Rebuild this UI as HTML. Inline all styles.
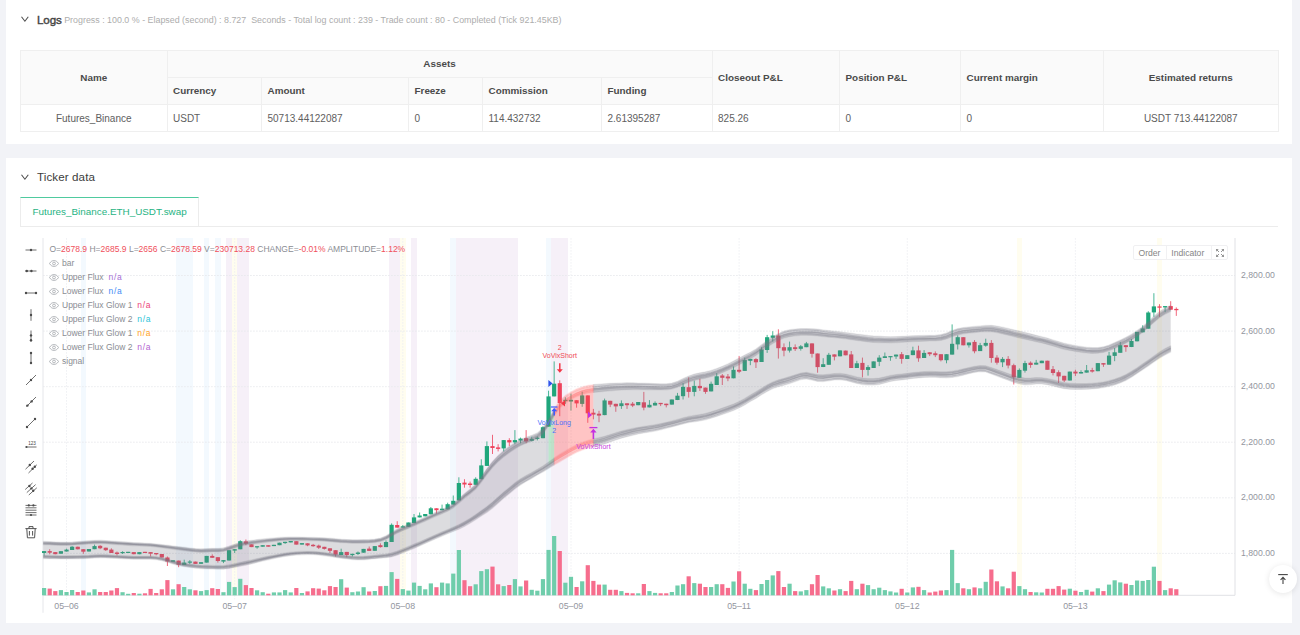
<!DOCTYPE html>
<html><head><meta charset="utf-8">
<style>
*{box-sizing:border-box;margin:0;padding:0}
html,body{width:1300px;height:635px;overflow:hidden}
body{background:#f2f3f7;font-family:"Liberation Sans",sans-serif;position:relative;color:#444}
.card{position:absolute;left:6px;width:1286px;background:#fff}
#c1{top:0;height:143.5px}
#c2{top:157.5px;height:465.5px}
.abs{position:absolute;white-space:nowrap}
.hd{font-size:11.6px;color:#444;font-weight:normal;-webkit-text-stroke:0.4px #444;letter-spacing:-0.1px}
.sub{font-size:8.9px;color:#adadad}
table{position:absolute;left:20px;top:49.5px;width:1258px;border-collapse:collapse;table-layout:fixed;font-size:10px;color:#606060}
td,th{border:1px solid #efefef;height:27.2px;padding:0 5.5px;text-align:left;vertical-align:middle;white-space:nowrap;overflow:hidden}
th{background:#fafafa;color:#4a4a4a;font-weight:bold;font-size:9.9px}
td{padding-top:1.2px}
.c{text-align:center}
.tab{position:absolute;left:20px;top:197px;width:178.5px;height:29px;border-top:1.6px solid #4fca9f;border-left:1px solid #ececec;border-right:1px solid #ececec;background:#fff;color:#1fb383;font-size:9.9px;line-height:27px;padding-left:11.5px}
.tabline{position:absolute;left:20px;top:225.5px;width:1258px;height:1px;background:#ececec}
.leg{position:absolute;left:49.5px;font-size:8.51px;color:#8a8d93;white-space:nowrap;line-height:10px}
.leg b{font-weight:normal}
.r{color:#f0505c}
.eye{display:inline-block;vertical-align:-1.2px;margin-right:3px}
.yl{position:absolute;left:1241px;font-size:8.7px;color:#9396a0;line-height:10px}
.xl{position:absolute;top:600.6px;font-size:8.8px;color:#9396a0;line-height:10px;width:40px;margin-left:-20px;text-align:center}
.btns{position:absolute;left:1133px;top:245.4px;width:95px;height:15px;border:1px solid #f0f0f2;border-radius:2px;background:#fff;font-size:8.6px;color:#858585;line-height:13px}
.btns span{position:absolute;top:1px}
.totop{position:absolute;left:1268.5px;top:565px;width:28px;height:28px;border-radius:50%;background:#fff;box-shadow:0 1px 6px rgba(0,0,0,0.10)}
</style></head><body>
<div class="card" id="c1"></div>
<div class="card" id="c2"></div>

<svg class="abs" style="left:21px;top:15.4px" width="8" height="8" viewBox="0 0 8 8"><polyline points="0.5,1.8 3.9,6.2 7.3,1.8" fill="none" stroke="#4a4a4a" stroke-width="1.05"/></svg>
<div class="abs hd" style="left:37px;top:12.6px" id="logs">Logs</div>
<div class="abs sub" style="left:64.2px;top:14.6px" id="sub">Progress : 100.0 % - Elapsed (second) : 8.727&nbsp; Seconds - Total log count : 239 - Trade count : 80 - Completed (Tick 921.45KB)</div>

<table>
<colgroup><col style="width:146.5px"><col style="width:94.5px"><col style="width:147px"><col style="width:74px"><col style="width:119px"><col style="width:110.5px"><col style="width:127.5px"><col style="width:121px"><col style="width:142.5px"><col style="width:175.5px"></colgroup>
<tr><th rowspan="2" class="c">Name</th><th colspan="5" class="c">Assets</th><th rowspan="2">Closeout P&amp;L</th><th rowspan="2">Position P&amp;L</th><th rowspan="2">Current margin</th><th rowspan="2" class="c">Estimated returns</th></tr>
<tr><th>Currency</th><th>Amount</th><th>Freeze</th><th>Commission</th><th>Funding</th></tr>
<tr><td class="c">Futures_Binance</td><td>USDT</td><td>50713.44122087</td><td>0</td><td>114.432732</td><td>2.61395287</td><td>825.26</td><td>0</td><td>0</td><td class="c">USDT 713.44122087</td></tr>
</table>

<svg class="abs" style="left:21px;top:173.4px" width="8" height="8" viewBox="0 0 8 8"><polyline points="0.5,1.8 3.9,6.2 7.3,1.8" fill="none" stroke="#4a4a4a" stroke-width="1.05"/></svg>
<div class="abs" style="left:37px;top:170.3px;font-size:11.6px;color:#3c3c3c;letter-spacing:0.1px" id="ticker">Ticker data</div>
<div class="tabline"></div>
<div class="tab"><span id="tabtxt">Futures_Binance.ETH_USDT.swap</span></div>

<svg width="1300" height="635" viewBox="0 0 1300 635" style="position:absolute;left:0;top:0">
<rect x="80.53" y="238" width="5.61" height="357.3" fill="#f3f9fe" shape-rendering="crispEdges"/>
<rect x="175.82" y="238" width="5.61" height="357.3" fill="#f3f9fe" shape-rendering="crispEdges"/>
<rect x="181.42" y="238" width="5.61" height="357.3" fill="#f3f9fe" shape-rendering="crispEdges"/>
<rect x="187.03" y="238" width="5.61" height="357.3" fill="#f3f9fe" shape-rendering="crispEdges"/>
<rect x="203.84" y="238" width="5.61" height="357.3" fill="#f3f9fe" shape-rendering="crispEdges"/>
<rect x="215.05" y="238" width="5.61" height="357.3" fill="#f3f9fe" shape-rendering="crispEdges"/>
<rect x="450.46" y="238" width="5.61" height="357.3" fill="#f3f9fe" shape-rendering="crispEdges"/>
<rect x="545.75" y="238" width="5.61" height="357.3" fill="#f3f9fe" shape-rendering="crispEdges"/>
<rect x="226.26" y="238" width="5.61" height="357.3" fill="#f6f0f8" shape-rendering="crispEdges"/>
<rect x="237.47" y="238" width="5.61" height="357.3" fill="#f6f0f8" shape-rendering="crispEdges"/>
<rect x="243.08" y="238" width="5.61" height="357.3" fill="#f6f0f8" shape-rendering="crispEdges"/>
<rect x="388.81" y="238" width="5.61" height="357.3" fill="#f6f0f8" shape-rendering="crispEdges"/>
<rect x="394.41" y="238" width="5.61" height="357.3" fill="#f6f0f8" shape-rendering="crispEdges"/>
<rect x="411.23" y="238" width="5.61" height="357.3" fill="#f6f0f8" shape-rendering="crispEdges"/>
<rect x="456.07" y="238" width="5.61" height="357.3" fill="#f6f0f8" shape-rendering="crispEdges"/>
<rect x="461.67" y="238" width="5.61" height="357.3" fill="#f6f0f8" shape-rendering="crispEdges"/>
<rect x="467.28" y="238" width="5.61" height="357.3" fill="#f6f0f8" shape-rendering="crispEdges"/>
<rect x="472.88" y="238" width="5.61" height="357.3" fill="#f6f0f8" shape-rendering="crispEdges"/>
<rect x="478.49" y="238" width="5.61" height="357.3" fill="#f6f0f8" shape-rendering="crispEdges"/>
<rect x="484.09" y="238" width="5.61" height="357.3" fill="#f6f0f8" shape-rendering="crispEdges"/>
<rect x="489.70" y="238" width="5.61" height="357.3" fill="#f6f0f8" shape-rendering="crispEdges"/>
<rect x="495.30" y="238" width="5.61" height="357.3" fill="#f6f0f8" shape-rendering="crispEdges"/>
<rect x="500.91" y="238" width="5.61" height="357.3" fill="#f6f0f8" shape-rendering="crispEdges"/>
<rect x="506.51" y="238" width="5.61" height="357.3" fill="#f6f0f8" shape-rendering="crispEdges"/>
<rect x="512.12" y="238" width="5.61" height="357.3" fill="#f6f0f8" shape-rendering="crispEdges"/>
<rect x="551.35" y="238" width="5.61" height="357.3" fill="#f6f0f8" shape-rendering="crispEdges"/>
<rect x="556.96" y="238" width="5.61" height="357.3" fill="#f6f0f8" shape-rendering="crispEdges"/>
<rect x="562.56" y="238" width="5.61" height="357.3" fill="#f6f0f8" shape-rendering="crispEdges"/>
<rect x="231.87" y="238" width="5.61" height="357.3" fill="#fffdef" shape-rendering="crispEdges"/>
<rect x="400.02" y="238" width="5.61" height="357.3" fill="#fffdef" shape-rendering="crispEdges"/>
<rect x="1016.57" y="238" width="5.61" height="357.3" fill="#fffdef" shape-rendering="crispEdges"/>
<rect x="1156.69" y="238" width="5.61" height="357.3" fill="#fffdef" shape-rendering="crispEdges"/>
<line x1="43" x2="1235" y1="275.5" y2="275.5" stroke="#e7e8ec" stroke-width="0.8" stroke-dasharray="1.8 1.2"/>
<line x1="43" x2="1235" y1="331.1" y2="331.1" stroke="#e7e8ec" stroke-width="0.8" stroke-dasharray="1.8 1.2"/>
<line x1="43" x2="1235" y1="386.7" y2="386.7" stroke="#e7e8ec" stroke-width="0.8" stroke-dasharray="1.8 1.2"/>
<line x1="43" x2="1235" y1="442.2" y2="442.2" stroke="#e7e8ec" stroke-width="0.8" stroke-dasharray="1.8 1.2"/>
<line x1="43" x2="1235" y1="497.8" y2="497.8" stroke="#e7e8ec" stroke-width="0.8" stroke-dasharray="1.8 1.2"/>
<line x1="43" x2="1235" y1="553.4" y2="553.4" stroke="#e7e8ec" stroke-width="0.8" stroke-dasharray="1.8 1.2"/>
<line x1="66.5" x2="66.5" y1="238" y2="599.3" stroke="#eeeff2" stroke-width="0.8" stroke-dasharray="1.8 1.2"/>
<line x1="234.7" x2="234.7" y1="238" y2="599.3" stroke="#eeeff2" stroke-width="0.8" stroke-dasharray="1.8 1.2"/>
<line x1="402.8" x2="402.8" y1="238" y2="599.3" stroke="#eeeff2" stroke-width="0.8" stroke-dasharray="1.8 1.2"/>
<line x1="571.0" x2="571.0" y1="238" y2="599.3" stroke="#eeeff2" stroke-width="0.8" stroke-dasharray="1.8 1.2"/>
<line x1="739.1" x2="739.1" y1="238" y2="599.3" stroke="#eeeff2" stroke-width="0.8" stroke-dasharray="1.8 1.2"/>
<line x1="907.3" x2="907.3" y1="238" y2="599.3" stroke="#eeeff2" stroke-width="0.8" stroke-dasharray="1.8 1.2"/>
<line x1="1075.4" x2="1075.4" y1="238" y2="599.3" stroke="#eeeff2" stroke-width="0.8" stroke-dasharray="1.8 1.2"/>
<line x1="43" x2="43" y1="238" y2="612.8" stroke="#e5e6ea" stroke-width="1"/>
<line x1="43" x2="1235" y1="595.3" y2="595.3" stroke="#e0e1e5" stroke-width="1"/>
<line x1="1235" x2="1235" y1="238" y2="595.3" stroke="#e0e1e5" stroke-width="1"/>
<rect x="42.00" y="588.0" width="4.2" height="7.3" fill="#6fcdab"/>
<rect x="47.60" y="588.6" width="4.2" height="6.7" fill="#f66d8d"/>
<rect x="53.21" y="591.1" width="4.2" height="4.2" fill="#f66d8d"/>
<rect x="58.82" y="590.1" width="4.2" height="5.2" fill="#6fcdab"/>
<rect x="64.42" y="592.0" width="4.2" height="3.3" fill="#6fcdab"/>
<rect x="70.03" y="590.0" width="4.2" height="5.3" fill="#6fcdab"/>
<rect x="75.63" y="592.0" width="4.2" height="3.3" fill="#f66d8d"/>
<rect x="81.24" y="590.5" width="4.2" height="4.8" fill="#f66d8d"/>
<rect x="86.84" y="592.4" width="4.2" height="2.9" fill="#6fcdab"/>
<rect x="92.45" y="589.3" width="4.2" height="6.0" fill="#6fcdab"/>
<rect x="98.05" y="592.0" width="4.2" height="3.3" fill="#f66d8d"/>
<rect x="103.66" y="592.0" width="4.2" height="3.3" fill="#f66d8d"/>
<rect x="109.26" y="590.5" width="4.2" height="4.8" fill="#f66d8d"/>
<rect x="114.87" y="588.1" width="4.2" height="7.2" fill="#f66d8d"/>
<rect x="120.47" y="592.2" width="4.2" height="3.1" fill="#6fcdab"/>
<rect x="126.08" y="593.8" width="4.2" height="1.5" fill="#6fcdab"/>
<rect x="131.68" y="593.0" width="4.2" height="2.3" fill="#f66d8d"/>
<rect x="137.29" y="593.7" width="4.2" height="1.6" fill="#6fcdab"/>
<rect x="142.89" y="593.3" width="4.2" height="2.0" fill="#f66d8d"/>
<rect x="148.50" y="588.9" width="4.2" height="6.4" fill="#f66d8d"/>
<rect x="154.10" y="593.0" width="4.2" height="2.3" fill="#f66d8d"/>
<rect x="159.71" y="589.3" width="4.2" height="6.0" fill="#f66d8d"/>
<rect x="165.31" y="580.1" width="4.2" height="15.2" fill="#f66d8d"/>
<rect x="170.92" y="589.3" width="4.2" height="6.0" fill="#6fcdab"/>
<rect x="176.52" y="584.2" width="4.2" height="11.1" fill="#f66d8d"/>
<rect x="182.12" y="587.0" width="4.2" height="8.3" fill="#6fcdab"/>
<rect x="187.73" y="589.3" width="4.2" height="6.0" fill="#6fcdab"/>
<rect x="193.34" y="590.3" width="4.2" height="5.0" fill="#f66d8d"/>
<rect x="198.94" y="591.1" width="4.2" height="4.2" fill="#6fcdab"/>
<rect x="204.55" y="590.1" width="4.2" height="5.2" fill="#6fcdab"/>
<rect x="210.15" y="588.2" width="4.2" height="7.1" fill="#f66d8d"/>
<rect x="215.76" y="589.0" width="4.2" height="6.3" fill="#f66d8d"/>
<rect x="221.36" y="592.2" width="4.2" height="3.1" fill="#6fcdab"/>
<rect x="226.97" y="581.9" width="4.2" height="13.4" fill="#6fcdab"/>
<rect x="232.57" y="587.1" width="4.2" height="8.2" fill="#6fcdab"/>
<rect x="238.18" y="578.8" width="4.2" height="16.5" fill="#6fcdab"/>
<rect x="243.78" y="585.1" width="4.2" height="10.2" fill="#f66d8d"/>
<rect x="249.39" y="588.0" width="4.2" height="7.3" fill="#f66d8d"/>
<rect x="254.99" y="590.3" width="4.2" height="5.0" fill="#6fcdab"/>
<rect x="260.60" y="592.2" width="4.2" height="3.1" fill="#6fcdab"/>
<rect x="266.20" y="593.7" width="4.2" height="1.6" fill="#f66d8d"/>
<rect x="271.81" y="592.4" width="4.2" height="2.9" fill="#6fcdab"/>
<rect x="277.41" y="592.4" width="4.2" height="2.9" fill="#6fcdab"/>
<rect x="283.01" y="590.1" width="4.2" height="5.2" fill="#6fcdab"/>
<rect x="288.62" y="592.4" width="4.2" height="2.9" fill="#6fcdab"/>
<rect x="294.23" y="588.0" width="4.2" height="7.3" fill="#f66d8d"/>
<rect x="299.83" y="593.0" width="4.2" height="2.3" fill="#6fcdab"/>
<rect x="305.44" y="591.4" width="4.2" height="3.9" fill="#f66d8d"/>
<rect x="311.04" y="588.2" width="4.2" height="7.1" fill="#f66d8d"/>
<rect x="316.65" y="588.6" width="4.2" height="6.7" fill="#f66d8d"/>
<rect x="322.25" y="590.3" width="4.2" height="5.0" fill="#f66d8d"/>
<rect x="327.86" y="586.1" width="4.2" height="9.2" fill="#f66d8d"/>
<rect x="333.46" y="587.0" width="4.2" height="8.3" fill="#f66d8d"/>
<rect x="339.06" y="579.2" width="4.2" height="16.1" fill="#6fcdab"/>
<rect x="344.67" y="587.6" width="4.2" height="7.7" fill="#f66d8d"/>
<rect x="350.28" y="592.2" width="4.2" height="3.1" fill="#6fcdab"/>
<rect x="355.88" y="591.5" width="4.2" height="3.8" fill="#6fcdab"/>
<rect x="361.49" y="587.2" width="4.2" height="8.1" fill="#6fcdab"/>
<rect x="367.09" y="591.5" width="4.2" height="3.8" fill="#f66d8d"/>
<rect x="372.70" y="591.0" width="4.2" height="4.3" fill="#6fcdab"/>
<rect x="378.30" y="586.2" width="4.2" height="9.1" fill="#f66d8d"/>
<rect x="383.91" y="585.9" width="4.2" height="9.4" fill="#6fcdab"/>
<rect x="389.51" y="572.1" width="4.2" height="23.2" fill="#6fcdab"/>
<rect x="395.12" y="578.9" width="4.2" height="16.4" fill="#f66d8d"/>
<rect x="400.72" y="589.1" width="4.2" height="6.2" fill="#6fcdab"/>
<rect x="406.33" y="590.6" width="4.2" height="4.7" fill="#6fcdab"/>
<rect x="411.93" y="582.6" width="4.2" height="12.7" fill="#6fcdab"/>
<rect x="417.54" y="585.9" width="4.2" height="9.4" fill="#6fcdab"/>
<rect x="423.14" y="589.3" width="4.2" height="6.0" fill="#6fcdab"/>
<rect x="428.75" y="583.4" width="4.2" height="11.9" fill="#6fcdab"/>
<rect x="434.35" y="587.2" width="4.2" height="8.1" fill="#f66d8d"/>
<rect x="439.96" y="582.6" width="4.2" height="12.7" fill="#6fcdab"/>
<rect x="445.56" y="583.4" width="4.2" height="11.9" fill="#6fcdab"/>
<rect x="451.17" y="573.6" width="4.2" height="21.7" fill="#6fcdab"/>
<rect x="456.77" y="550.0" width="4.2" height="45.3" fill="#6fcdab"/>
<rect x="462.38" y="580.2" width="4.2" height="15.1" fill="#f66d8d"/>
<rect x="467.98" y="586.2" width="4.2" height="9.1" fill="#f66d8d"/>
<rect x="473.59" y="584.3" width="4.2" height="11.0" fill="#6fcdab"/>
<rect x="479.19" y="571.1" width="4.2" height="24.2" fill="#6fcdab"/>
<rect x="484.80" y="569.2" width="4.2" height="26.1" fill="#6fcdab"/>
<rect x="490.40" y="566.6" width="4.2" height="28.7" fill="#f66d8d"/>
<rect x="496.01" y="584.3" width="4.2" height="11.0" fill="#f66d8d"/>
<rect x="501.61" y="586.1" width="4.2" height="9.2" fill="#6fcdab"/>
<rect x="507.22" y="585.0" width="4.2" height="10.3" fill="#f66d8d"/>
<rect x="512.82" y="579.1" width="4.2" height="16.2" fill="#6fcdab"/>
<rect x="518.42" y="586.4" width="4.2" height="8.9" fill="#6fcdab"/>
<rect x="524.03" y="580.5" width="4.2" height="14.8" fill="#f66d8d"/>
<rect x="529.63" y="589.8" width="4.2" height="5.5" fill="#6fcdab"/>
<rect x="535.24" y="590.7" width="4.2" height="4.6" fill="#6fcdab"/>
<rect x="540.85" y="579.1" width="4.2" height="16.2" fill="#6fcdab"/>
<rect x="546.45" y="549.9" width="4.2" height="45.4" fill="#6fcdab"/>
<rect x="552.06" y="536.0" width="4.2" height="59.3" fill="#6fcdab"/>
<rect x="557.66" y="551.0" width="4.2" height="44.3" fill="#f66d8d"/>
<rect x="563.26" y="582.7" width="4.2" height="12.6" fill="#6fcdab"/>
<rect x="568.87" y="576.8" width="4.2" height="18.5" fill="#6fcdab"/>
<rect x="574.48" y="587.0" width="4.2" height="8.3" fill="#f66d8d"/>
<rect x="580.08" y="581.3" width="4.2" height="14.0" fill="#6fcdab"/>
<rect x="585.69" y="565.2" width="4.2" height="30.1" fill="#f66d8d"/>
<rect x="591.29" y="580.9" width="4.2" height="14.4" fill="#f66d8d"/>
<rect x="596.90" y="584.6" width="4.2" height="10.7" fill="#f66d8d"/>
<rect x="602.50" y="584.6" width="4.2" height="10.7" fill="#6fcdab"/>
<rect x="608.11" y="589.8" width="4.2" height="5.5" fill="#f66d8d"/>
<rect x="613.71" y="589.8" width="4.2" height="5.5" fill="#f66d8d"/>
<rect x="619.32" y="591.1" width="4.2" height="4.2" fill="#6fcdab"/>
<rect x="624.92" y="592.9" width="4.2" height="2.4" fill="#f66d8d"/>
<rect x="630.53" y="593.3" width="4.2" height="2.0" fill="#f66d8d"/>
<rect x="636.13" y="593.3" width="4.2" height="2.0" fill="#6fcdab"/>
<rect x="641.74" y="584.0" width="4.2" height="11.3" fill="#f66d8d"/>
<rect x="647.34" y="591.1" width="4.2" height="4.2" fill="#6fcdab"/>
<rect x="652.95" y="592.9" width="4.2" height="2.4" fill="#6fcdab"/>
<rect x="658.55" y="593.3" width="4.2" height="2.0" fill="#f66d8d"/>
<rect x="664.16" y="593.3" width="4.2" height="2.0" fill="#f66d8d"/>
<rect x="669.76" y="592.0" width="4.2" height="3.3" fill="#6fcdab"/>
<rect x="675.37" y="585.5" width="4.2" height="9.8" fill="#6fcdab"/>
<rect x="680.97" y="584.2" width="4.2" height="11.1" fill="#6fcdab"/>
<rect x="686.58" y="576.3" width="4.2" height="19.0" fill="#f66d8d"/>
<rect x="692.18" y="583.1" width="4.2" height="12.2" fill="#6fcdab"/>
<rect x="697.79" y="583.7" width="4.2" height="11.6" fill="#f66d8d"/>
<rect x="703.39" y="587.0" width="4.2" height="8.3" fill="#f66d8d"/>
<rect x="709.00" y="587.0" width="4.2" height="8.3" fill="#6fcdab"/>
<rect x="714.60" y="584.2" width="4.2" height="11.1" fill="#6fcdab"/>
<rect x="720.21" y="584.2" width="4.2" height="11.1" fill="#f66d8d"/>
<rect x="725.81" y="587.9" width="4.2" height="7.4" fill="#f66d8d"/>
<rect x="731.42" y="581.5" width="4.2" height="13.8" fill="#6fcdab"/>
<rect x="737.02" y="571.3" width="4.2" height="24.0" fill="#f66d8d"/>
<rect x="742.62" y="583.7" width="4.2" height="11.6" fill="#6fcdab"/>
<rect x="748.23" y="588.8" width="4.2" height="6.5" fill="#6fcdab"/>
<rect x="753.84" y="590.1" width="4.2" height="5.2" fill="#f66d8d"/>
<rect x="759.44" y="584.0" width="4.2" height="11.3" fill="#6fcdab"/>
<rect x="765.05" y="580.0" width="4.2" height="15.3" fill="#6fcdab"/>
<rect x="770.65" y="575.4" width="4.2" height="19.9" fill="#6fcdab"/>
<rect x="776.26" y="571.1" width="4.2" height="24.2" fill="#f66d8d"/>
<rect x="781.86" y="587.0" width="4.2" height="8.3" fill="#f66d8d"/>
<rect x="787.47" y="583.7" width="4.2" height="11.6" fill="#6fcdab"/>
<rect x="793.07" y="591.1" width="4.2" height="4.2" fill="#f66d8d"/>
<rect x="798.68" y="591.4" width="4.2" height="3.9" fill="#6fcdab"/>
<rect x="804.28" y="590.1" width="4.2" height="5.2" fill="#6fcdab"/>
<rect x="809.89" y="584.2" width="4.2" height="11.1" fill="#f66d8d"/>
<rect x="815.49" y="575.0" width="4.2" height="20.3" fill="#f66d8d"/>
<rect x="821.10" y="586.4" width="4.2" height="8.9" fill="#6fcdab"/>
<rect x="826.70" y="588.3" width="4.2" height="7.0" fill="#6fcdab"/>
<rect x="832.31" y="590.5" width="4.2" height="4.8" fill="#f66d8d"/>
<rect x="837.91" y="589.2" width="4.2" height="6.1" fill="#6fcdab"/>
<rect x="843.52" y="591.1" width="4.2" height="4.2" fill="#f66d8d"/>
<rect x="849.12" y="580.9" width="4.2" height="14.4" fill="#f66d8d"/>
<rect x="854.73" y="589.2" width="4.2" height="6.1" fill="#6fcdab"/>
<rect x="860.33" y="583.7" width="4.2" height="11.6" fill="#f66d8d"/>
<rect x="865.94" y="585.1" width="4.2" height="10.2" fill="#6fcdab"/>
<rect x="871.54" y="589.2" width="4.2" height="6.1" fill="#6fcdab"/>
<rect x="877.15" y="587.7" width="4.2" height="7.6" fill="#6fcdab"/>
<rect x="882.75" y="590.1" width="4.2" height="5.2" fill="#6fcdab"/>
<rect x="888.36" y="591.4" width="4.2" height="3.9" fill="#6fcdab"/>
<rect x="893.96" y="592.5" width="4.2" height="2.8" fill="#6fcdab"/>
<rect x="899.57" y="588.8" width="4.2" height="6.5" fill="#f66d8d"/>
<rect x="905.17" y="592.5" width="4.2" height="2.8" fill="#6fcdab"/>
<rect x="910.78" y="587.4" width="4.2" height="7.9" fill="#6fcdab"/>
<rect x="916.38" y="586.8" width="4.2" height="8.5" fill="#f66d8d"/>
<rect x="921.99" y="590.1" width="4.2" height="5.2" fill="#6fcdab"/>
<rect x="927.59" y="592.5" width="4.2" height="2.8" fill="#f66d8d"/>
<rect x="933.20" y="591.6" width="4.2" height="3.7" fill="#f66d8d"/>
<rect x="938.80" y="590.5" width="4.2" height="4.8" fill="#f66d8d"/>
<rect x="944.41" y="590.1" width="4.2" height="5.2" fill="#6fcdab"/>
<rect x="950.01" y="549.9" width="4.2" height="45.4" fill="#6fcdab"/>
<rect x="955.62" y="583.1" width="4.2" height="12.2" fill="#6fcdab"/>
<rect x="961.22" y="588.3" width="4.2" height="7.0" fill="#f66d8d"/>
<rect x="966.83" y="589.2" width="4.2" height="6.1" fill="#6fcdab"/>
<rect x="972.43" y="587.4" width="4.2" height="7.9" fill="#f66d8d"/>
<rect x="978.04" y="588.3" width="4.2" height="7.0" fill="#6fcdab"/>
<rect x="983.64" y="581.8" width="4.2" height="13.5" fill="#6fcdab"/>
<rect x="989.25" y="569.5" width="4.2" height="25.8" fill="#f66d8d"/>
<rect x="994.85" y="581.3" width="4.2" height="14.0" fill="#f66d8d"/>
<rect x="1000.46" y="586.4" width="4.2" height="8.9" fill="#6fcdab"/>
<rect x="1006.06" y="588.3" width="4.2" height="7.0" fill="#f66d8d"/>
<rect x="1011.67" y="571.7" width="4.2" height="23.6" fill="#f66d8d"/>
<rect x="1017.27" y="586.1" width="4.2" height="9.2" fill="#6fcdab"/>
<rect x="1022.88" y="589.2" width="4.2" height="6.1" fill="#6fcdab"/>
<rect x="1028.48" y="592.0" width="4.2" height="3.3" fill="#f66d8d"/>
<rect x="1034.09" y="592.3" width="4.2" height="3.0" fill="#6fcdab"/>
<rect x="1039.69" y="592.5" width="4.2" height="2.8" fill="#6fcdab"/>
<rect x="1045.30" y="588.8" width="4.2" height="6.5" fill="#f66d8d"/>
<rect x="1050.90" y="588.8" width="4.2" height="6.5" fill="#f66d8d"/>
<rect x="1056.51" y="586.1" width="4.2" height="9.2" fill="#f66d8d"/>
<rect x="1062.11" y="589.6" width="4.2" height="5.7" fill="#f66d8d"/>
<rect x="1067.72" y="588.7" width="4.2" height="6.6" fill="#6fcdab"/>
<rect x="1073.32" y="590.7" width="4.2" height="4.6" fill="#f66d8d"/>
<rect x="1078.93" y="592.0" width="4.2" height="3.3" fill="#6fcdab"/>
<rect x="1084.53" y="589.8" width="4.2" height="5.5" fill="#6fcdab"/>
<rect x="1090.13" y="591.6" width="4.2" height="3.7" fill="#f66d8d"/>
<rect x="1095.74" y="588.3" width="4.2" height="7.0" fill="#6fcdab"/>
<rect x="1101.35" y="591.1" width="4.2" height="4.2" fill="#f66d8d"/>
<rect x="1106.95" y="584.6" width="4.2" height="10.7" fill="#6fcdab"/>
<rect x="1112.56" y="580.3" width="4.2" height="15.0" fill="#6fcdab"/>
<rect x="1118.16" y="582.4" width="4.2" height="12.9" fill="#6fcdab"/>
<rect x="1123.77" y="583.7" width="4.2" height="11.6" fill="#f66d8d"/>
<rect x="1129.37" y="585.0" width="4.2" height="10.3" fill="#6fcdab"/>
<rect x="1134.98" y="580.5" width="4.2" height="14.8" fill="#6fcdab"/>
<rect x="1140.58" y="580.9" width="4.2" height="14.4" fill="#6fcdab"/>
<rect x="1146.19" y="580.0" width="4.2" height="15.3" fill="#6fcdab"/>
<rect x="1151.79" y="566.7" width="4.2" height="28.6" fill="#6fcdab"/>
<rect x="1157.39" y="580.9" width="4.2" height="14.4" fill="#f66d8d"/>
<rect x="1163.00" y="590.1" width="4.2" height="5.2" fill="#6fcdab"/>
<rect x="1168.61" y="588.3" width="4.2" height="7.0" fill="#f66d8d"/>
<rect x="1174.21" y="589.2" width="4.2" height="6.1" fill="#f66d8d"/>
<line x1="44.10" x2="44.10" y1="551.1" y2="555.7" stroke="#1fa67b" stroke-width="1" stroke-opacity="0.8"/>
<rect x="42.00" y="551.1" width="4.2" height="1.9" fill="#1fa67b"/>
<line x1="49.70" x2="49.70" y1="549.2" y2="554.3" stroke="#ee425c" stroke-width="1" stroke-opacity="0.8"/>
<rect x="47.60" y="551.1" width="4.2" height="1.6" fill="#ee425c"/>
<line x1="55.31" x2="55.31" y1="552.1" y2="554.3" stroke="#ee425c" stroke-width="1" stroke-opacity="0.8"/>
<rect x="53.21" y="552.1" width="4.2" height="2.1" fill="#ee425c"/>
<line x1="60.92" x2="60.92" y1="551.2" y2="553.8" stroke="#1fa67b" stroke-width="1" stroke-opacity="0.8"/>
<rect x="58.82" y="551.2" width="4.2" height="2.5" fill="#1fa67b"/>
<line x1="66.52" x2="66.52" y1="548.7" y2="551.5" stroke="#1fa67b" stroke-width="1" stroke-opacity="0.8"/>
<rect x="64.42" y="549.6" width="4.2" height="1.9" fill="#1fa67b"/>
<line x1="72.12" x2="72.12" y1="546.1" y2="550.0" stroke="#1fa67b" stroke-width="1" stroke-opacity="0.8"/>
<rect x="70.03" y="546.7" width="4.2" height="3.3" fill="#1fa67b"/>
<line x1="77.73" x2="77.73" y1="546.7" y2="549.4" stroke="#ee425c" stroke-width="1" stroke-opacity="0.8"/>
<rect x="75.63" y="546.7" width="4.2" height="2.6" fill="#ee425c"/>
<line x1="83.34" x2="83.34" y1="549.2" y2="553.8" stroke="#ee425c" stroke-width="1" stroke-opacity="0.8"/>
<rect x="81.24" y="549.2" width="4.2" height="2.5" fill="#ee425c"/>
<line x1="88.94" x2="88.94" y1="549.0" y2="551.5" stroke="#1fa67b" stroke-width="1" stroke-opacity="0.8"/>
<rect x="86.84" y="549.0" width="4.2" height="2.5" fill="#1fa67b"/>
<line x1="94.55" x2="94.55" y1="544.6" y2="549.2" stroke="#1fa67b" stroke-width="1" stroke-opacity="0.8"/>
<rect x="92.45" y="546.1" width="4.2" height="3.1" fill="#1fa67b"/>
<line x1="100.15" x2="100.15" y1="545.2" y2="549.2" stroke="#ee425c" stroke-width="1" stroke-opacity="0.8"/>
<rect x="98.05" y="545.8" width="4.2" height="2.5" fill="#ee425c"/>
<line x1="105.75" x2="105.75" y1="547.7" y2="550.9" stroke="#ee425c" stroke-width="1" stroke-opacity="0.8"/>
<rect x="103.66" y="547.7" width="4.2" height="2.5" fill="#ee425c"/>
<line x1="111.36" x2="111.36" y1="548.3" y2="553.0" stroke="#ee425c" stroke-width="1" stroke-opacity="0.8"/>
<rect x="109.26" y="549.6" width="4.2" height="3.4" fill="#ee425c"/>
<line x1="116.97" x2="116.97" y1="551.5" y2="555.5" stroke="#ee425c" stroke-width="1" stroke-opacity="0.8"/>
<rect x="114.87" y="552.5" width="4.2" height="1.5" fill="#ee425c"/>
<line x1="122.57" x2="122.57" y1="551.2" y2="554.0" stroke="#1fa67b" stroke-width="1" stroke-opacity="0.8"/>
<rect x="120.47" y="552.0" width="4.2" height="1.2" fill="#1fa67b"/>
<line x1="128.18" x2="128.18" y1="551.9" y2="553.0" stroke="#1fa67b" stroke-width="1" stroke-opacity="0.8"/>
<rect x="126.08" y="551.8" width="4.2" height="1.2" fill="#1fa67b"/>
<line x1="133.78" x2="133.78" y1="552.1" y2="554.3" stroke="#ee425c" stroke-width="1" stroke-opacity="0.8"/>
<rect x="131.68" y="552.1" width="4.2" height="2.1" fill="#ee425c"/>
<line x1="139.39" x2="139.39" y1="552.1" y2="554.3" stroke="#1fa67b" stroke-width="1" stroke-opacity="0.8"/>
<rect x="137.29" y="552.1" width="4.2" height="2.1" fill="#1fa67b"/>
<line x1="144.99" x2="144.99" y1="551.9" y2="553.0" stroke="#ee425c" stroke-width="1" stroke-opacity="0.8"/>
<rect x="142.89" y="551.8" width="4.2" height="1.2" fill="#ee425c"/>
<line x1="150.59" x2="150.59" y1="552.1" y2="556.5" stroke="#ee425c" stroke-width="1" stroke-opacity="0.8"/>
<rect x="148.50" y="552.1" width="4.2" height="1.6" fill="#ee425c"/>
<line x1="156.20" x2="156.20" y1="553.0" y2="555.3" stroke="#ee425c" stroke-width="1" stroke-opacity="0.8"/>
<rect x="154.10" y="553.0" width="4.2" height="1.3" fill="#ee425c"/>
<line x1="161.81" x2="161.81" y1="554.0" y2="557.5" stroke="#ee425c" stroke-width="1" stroke-opacity="0.8"/>
<rect x="159.71" y="554.0" width="4.2" height="3.5" fill="#ee425c"/>
<line x1="167.41" x2="167.41" y1="556.5" y2="566.0" stroke="#ee425c" stroke-width="1" stroke-opacity="0.8"/>
<rect x="165.31" y="557.5" width="4.2" height="4.0" fill="#ee425c"/>
<line x1="173.02" x2="173.02" y1="560.3" y2="561.8" stroke="#1fa67b" stroke-width="1" stroke-opacity="0.8"/>
<rect x="170.92" y="560.3" width="4.2" height="1.5" fill="#1fa67b"/>
<line x1="178.62" x2="178.62" y1="560.6" y2="567.2" stroke="#ee425c" stroke-width="1" stroke-opacity="0.8"/>
<rect x="176.52" y="560.6" width="4.2" height="4.2" fill="#ee425c"/>
<line x1="184.22" x2="184.22" y1="559.7" y2="565.1" stroke="#1fa67b" stroke-width="1" stroke-opacity="0.8"/>
<rect x="182.12" y="562.6" width="4.2" height="2.5" fill="#1fa67b"/>
<line x1="189.83" x2="189.83" y1="560.1" y2="564.1" stroke="#1fa67b" stroke-width="1" stroke-opacity="0.8"/>
<rect x="187.73" y="561.5" width="4.2" height="1.2" fill="#1fa67b"/>
<line x1="195.44" x2="195.44" y1="561.6" y2="563.8" stroke="#ee425c" stroke-width="1" stroke-opacity="0.8"/>
<rect x="193.34" y="561.6" width="4.2" height="2.3" fill="#ee425c"/>
<line x1="201.04" x2="201.04" y1="562.2" y2="563.8" stroke="#1fa67b" stroke-width="1" stroke-opacity="0.8"/>
<rect x="198.94" y="562.2" width="4.2" height="1.6" fill="#1fa67b"/>
<line x1="206.65" x2="206.65" y1="555.9" y2="562.6" stroke="#1fa67b" stroke-width="1" stroke-opacity="0.8"/>
<rect x="204.55" y="555.9" width="4.2" height="6.7" fill="#1fa67b"/>
<line x1="212.25" x2="212.25" y1="554.3" y2="557.8" stroke="#ee425c" stroke-width="1" stroke-opacity="0.8"/>
<rect x="210.15" y="555.9" width="4.2" height="1.9" fill="#ee425c"/>
<line x1="217.86" x2="217.86" y1="557.2" y2="562.6" stroke="#ee425c" stroke-width="1" stroke-opacity="0.8"/>
<rect x="215.76" y="557.2" width="4.2" height="3.8" fill="#ee425c"/>
<line x1="223.46" x2="223.46" y1="560.1" y2="563.1" stroke="#1fa67b" stroke-width="1" stroke-opacity="0.8"/>
<rect x="221.36" y="560.1" width="4.2" height="1.5" fill="#1fa67b"/>
<line x1="229.06" x2="229.06" y1="550.2" y2="560.6" stroke="#1fa67b" stroke-width="1" stroke-opacity="0.8"/>
<rect x="226.97" y="550.2" width="4.2" height="10.3" fill="#1fa67b"/>
<line x1="234.67" x2="234.67" y1="549.2" y2="553.0" stroke="#1fa67b" stroke-width="1" stroke-opacity="0.8"/>
<rect x="232.57" y="549.2" width="4.2" height="1.4" fill="#1fa67b"/>
<line x1="240.28" x2="240.28" y1="540.2" y2="549.2" stroke="#1fa67b" stroke-width="1" stroke-opacity="0.8"/>
<rect x="238.18" y="541.2" width="4.2" height="8.1" fill="#1fa67b"/>
<line x1="245.88" x2="245.88" y1="539.5" y2="545.2" stroke="#ee425c" stroke-width="1" stroke-opacity="0.8"/>
<rect x="243.78" y="541.4" width="4.2" height="2.3" fill="#ee425c"/>
<line x1="251.49" x2="251.49" y1="544.3" y2="547.1" stroke="#ee425c" stroke-width="1" stroke-opacity="0.8"/>
<rect x="249.39" y="544.3" width="4.2" height="2.8" fill="#ee425c"/>
<line x1="257.09" x2="257.09" y1="546.2" y2="548.7" stroke="#1fa67b" stroke-width="1" stroke-opacity="0.8"/>
<rect x="254.99" y="546.2" width="4.2" height="1.2" fill="#1fa67b"/>
<line x1="262.70" x2="262.70" y1="545.2" y2="546.7" stroke="#1fa67b" stroke-width="1" stroke-opacity="0.8"/>
<rect x="260.60" y="545.2" width="4.2" height="1.5" fill="#1fa67b"/>
<line x1="268.30" x2="268.30" y1="545.2" y2="546.7" stroke="#ee425c" stroke-width="1" stroke-opacity="0.8"/>
<rect x="266.20" y="545.2" width="4.2" height="1.5" fill="#ee425c"/>
<line x1="273.91" x2="273.91" y1="544.8" y2="546.1" stroke="#1fa67b" stroke-width="1" stroke-opacity="0.8"/>
<rect x="271.81" y="544.8" width="4.2" height="1.3" fill="#1fa67b"/>
<line x1="279.51" x2="279.51" y1="542.7" y2="545.2" stroke="#1fa67b" stroke-width="1" stroke-opacity="0.8"/>
<rect x="277.41" y="542.7" width="4.2" height="2.5" fill="#1fa67b"/>
<line x1="285.12" x2="285.12" y1="541.8" y2="543.9" stroke="#1fa67b" stroke-width="1" stroke-opacity="0.8"/>
<rect x="283.01" y="541.8" width="4.2" height="1.3" fill="#1fa67b"/>
<line x1="290.72" x2="290.72" y1="541.0" y2="542.4" stroke="#1fa67b" stroke-width="1" stroke-opacity="0.8"/>
<rect x="288.62" y="541.0" width="4.2" height="1.4" fill="#1fa67b"/>
<line x1="296.33" x2="296.33" y1="541.2" y2="544.6" stroke="#ee425c" stroke-width="1" stroke-opacity="0.8"/>
<rect x="294.23" y="541.2" width="4.2" height="3.4" fill="#ee425c"/>
<line x1="301.93" x2="301.93" y1="543.1" y2="544.6" stroke="#1fa67b" stroke-width="1" stroke-opacity="0.8"/>
<rect x="299.83" y="543.1" width="4.2" height="1.5" fill="#1fa67b"/>
<line x1="307.54" x2="307.54" y1="543.3" y2="546.2" stroke="#ee425c" stroke-width="1" stroke-opacity="0.8"/>
<rect x="305.44" y="543.3" width="4.2" height="2.1" fill="#ee425c"/>
<line x1="313.14" x2="313.14" y1="543.9" y2="546.8" stroke="#ee425c" stroke-width="1" stroke-opacity="0.8"/>
<rect x="311.04" y="544.8" width="4.2" height="1.4" fill="#ee425c"/>
<line x1="318.75" x2="318.75" y1="544.6" y2="549.0" stroke="#ee425c" stroke-width="1" stroke-opacity="0.8"/>
<rect x="316.65" y="545.6" width="4.2" height="2.1" fill="#ee425c"/>
<line x1="324.35" x2="324.35" y1="546.8" y2="549.6" stroke="#ee425c" stroke-width="1" stroke-opacity="0.8"/>
<rect x="322.25" y="546.8" width="4.2" height="2.1" fill="#ee425c"/>
<line x1="329.96" x2="329.96" y1="548.3" y2="553.0" stroke="#ee425c" stroke-width="1" stroke-opacity="0.8"/>
<rect x="327.86" y="548.3" width="4.2" height="2.5" fill="#ee425c"/>
<line x1="335.56" x2="335.56" y1="550.2" y2="556.5" stroke="#ee425c" stroke-width="1" stroke-opacity="0.8"/>
<rect x="333.46" y="550.2" width="4.2" height="4.4" fill="#ee425c"/>
<line x1="341.17" x2="341.17" y1="548.7" y2="555.0" stroke="#1fa67b" stroke-width="1" stroke-opacity="0.8"/>
<rect x="339.06" y="552.1" width="4.2" height="2.9" fill="#1fa67b"/>
<line x1="346.77" x2="346.77" y1="551.9" y2="557.2" stroke="#ee425c" stroke-width="1" stroke-opacity="0.8"/>
<rect x="344.67" y="551.9" width="4.2" height="3.1" fill="#ee425c"/>
<line x1="352.38" x2="352.38" y1="553.8" y2="556.5" stroke="#1fa67b" stroke-width="1" stroke-opacity="0.8"/>
<rect x="350.28" y="553.8" width="4.2" height="1.3" fill="#1fa67b"/>
<line x1="357.98" x2="357.98" y1="551.5" y2="555.0" stroke="#1fa67b" stroke-width="1" stroke-opacity="0.8"/>
<rect x="355.88" y="552.5" width="4.2" height="1.5" fill="#1fa67b"/>
<line x1="363.59" x2="363.59" y1="548.9" y2="552.7" stroke="#1fa67b" stroke-width="1" stroke-opacity="0.8"/>
<rect x="361.49" y="548.9" width="4.2" height="3.8" fill="#1fa67b"/>
<line x1="369.19" x2="369.19" y1="546.5" y2="550.8" stroke="#ee425c" stroke-width="1" stroke-opacity="0.8"/>
<rect x="367.09" y="548.6" width="4.2" height="2.3" fill="#ee425c"/>
<line x1="374.80" x2="374.80" y1="546.1" y2="550.8" stroke="#1fa67b" stroke-width="1" stroke-opacity="0.8"/>
<rect x="372.70" y="546.1" width="4.2" height="4.7" fill="#1fa67b"/>
<line x1="380.40" x2="380.40" y1="543.3" y2="547.6" stroke="#ee425c" stroke-width="1" stroke-opacity="0.8"/>
<rect x="378.30" y="545.2" width="4.2" height="1.9" fill="#ee425c"/>
<line x1="386.01" x2="386.01" y1="540.4" y2="547.1" stroke="#1fa67b" stroke-width="1" stroke-opacity="0.8"/>
<rect x="383.91" y="542.0" width="4.2" height="5.1" fill="#1fa67b"/>
<line x1="391.61" x2="391.61" y1="523.4" y2="542.0" stroke="#1fa67b" stroke-width="1" stroke-opacity="0.8"/>
<rect x="389.51" y="524.8" width="4.2" height="17.2" fill="#1fa67b"/>
<line x1="397.22" x2="397.22" y1="521.2" y2="527.6" stroke="#ee425c" stroke-width="1" stroke-opacity="0.8"/>
<rect x="395.12" y="525.0" width="4.2" height="2.6" fill="#ee425c"/>
<line x1="402.82" x2="402.82" y1="525.0" y2="527.6" stroke="#1fa67b" stroke-width="1" stroke-opacity="0.8"/>
<rect x="400.72" y="526.3" width="4.2" height="1.3" fill="#1fa67b"/>
<line x1="408.43" x2="408.43" y1="522.5" y2="526.8" stroke="#1fa67b" stroke-width="1" stroke-opacity="0.8"/>
<rect x="406.33" y="522.5" width="4.2" height="4.3" fill="#1fa67b"/>
<line x1="414.03" x2="414.03" y1="514.0" y2="523.1" stroke="#1fa67b" stroke-width="1" stroke-opacity="0.8"/>
<rect x="411.93" y="517.4" width="4.2" height="5.7" fill="#1fa67b"/>
<line x1="419.64" x2="419.64" y1="512.5" y2="517.4" stroke="#1fa67b" stroke-width="1" stroke-opacity="0.8"/>
<rect x="417.54" y="515.5" width="4.2" height="1.9" fill="#1fa67b"/>
<line x1="425.24" x2="425.24" y1="514.0" y2="516.3" stroke="#1fa67b" stroke-width="1" stroke-opacity="0.8"/>
<rect x="423.14" y="514.0" width="4.2" height="2.3" fill="#1fa67b"/>
<line x1="430.85" x2="430.85" y1="507.0" y2="514.4" stroke="#1fa67b" stroke-width="1" stroke-opacity="0.8"/>
<rect x="428.75" y="508.3" width="4.2" height="6.0" fill="#1fa67b"/>
<line x1="436.45" x2="436.45" y1="508.3" y2="513.6" stroke="#ee425c" stroke-width="1" stroke-opacity="0.8"/>
<rect x="434.35" y="508.3" width="4.2" height="1.9" fill="#ee425c"/>
<line x1="442.06" x2="442.06" y1="504.6" y2="510.2" stroke="#1fa67b" stroke-width="1" stroke-opacity="0.8"/>
<rect x="439.96" y="508.7" width="4.2" height="1.5" fill="#1fa67b"/>
<line x1="447.66" x2="447.66" y1="502.7" y2="509.3" stroke="#1fa67b" stroke-width="1" stroke-opacity="0.8"/>
<rect x="445.56" y="504.2" width="4.2" height="5.1" fill="#1fa67b"/>
<line x1="453.27" x2="453.27" y1="495.5" y2="504.6" stroke="#1fa67b" stroke-width="1" stroke-opacity="0.8"/>
<rect x="451.17" y="500.8" width="4.2" height="3.8" fill="#1fa67b"/>
<line x1="458.87" x2="458.87" y1="477.3" y2="500.3" stroke="#1fa67b" stroke-width="1" stroke-opacity="0.8"/>
<rect x="456.77" y="483.0" width="4.2" height="17.4" fill="#1fa67b"/>
<line x1="464.48" x2="464.48" y1="479.2" y2="487.7" stroke="#ee425c" stroke-width="1" stroke-opacity="0.8"/>
<rect x="462.38" y="482.6" width="4.2" height="1.9" fill="#ee425c"/>
<line x1="470.08" x2="470.08" y1="481.6" y2="487.7" stroke="#ee425c" stroke-width="1" stroke-opacity="0.8"/>
<rect x="467.98" y="483.5" width="4.2" height="1.5" fill="#ee425c"/>
<line x1="475.69" x2="475.69" y1="477.3" y2="484.8" stroke="#1fa67b" stroke-width="1" stroke-opacity="0.8"/>
<rect x="473.59" y="478.8" width="4.2" height="6.0" fill="#1fa67b"/>
<line x1="481.29" x2="481.29" y1="459.3" y2="479.2" stroke="#1fa67b" stroke-width="1" stroke-opacity="0.8"/>
<rect x="479.19" y="465.4" width="4.2" height="13.8" fill="#1fa67b"/>
<line x1="486.90" x2="486.90" y1="441.4" y2="466.0" stroke="#1fa67b" stroke-width="1" stroke-opacity="0.8"/>
<rect x="484.80" y="446.1" width="4.2" height="19.8" fill="#1fa67b"/>
<line x1="492.50" x2="492.50" y1="434.8" y2="454.0" stroke="#ee425c" stroke-width="1" stroke-opacity="0.8"/>
<rect x="490.40" y="446.1" width="4.2" height="1.9" fill="#ee425c"/>
<line x1="498.11" x2="498.11" y1="444.2" y2="451.4" stroke="#ee425c" stroke-width="1" stroke-opacity="0.8"/>
<rect x="496.01" y="447.4" width="4.2" height="1.5" fill="#ee425c"/>
<line x1="503.71" x2="503.71" y1="440.1" y2="451.4" stroke="#1fa67b" stroke-width="1" stroke-opacity="0.8"/>
<rect x="501.61" y="440.1" width="4.2" height="8.3" fill="#1fa67b"/>
<line x1="509.32" x2="509.32" y1="438.2" y2="446.1" stroke="#ee425c" stroke-width="1" stroke-opacity="0.8"/>
<rect x="507.22" y="440.1" width="4.2" height="2.3" fill="#ee425c"/>
<line x1="514.92" x2="514.92" y1="430.1" y2="444.2" stroke="#1fa67b" stroke-width="1" stroke-opacity="0.8"/>
<rect x="512.82" y="440.1" width="4.2" height="2.3" fill="#1fa67b"/>
<line x1="520.52" x2="520.52" y1="437.6" y2="443.3" stroke="#1fa67b" stroke-width="1" stroke-opacity="0.8"/>
<rect x="518.42" y="438.6" width="4.2" height="1.9" fill="#1fa67b"/>
<line x1="526.13" x2="526.13" y1="430.1" y2="443.3" stroke="#ee425c" stroke-width="1" stroke-opacity="0.8"/>
<rect x="524.03" y="438.2" width="4.2" height="3.2" fill="#ee425c"/>
<line x1="531.74" x2="531.74" y1="436.7" y2="441.4" stroke="#1fa67b" stroke-width="1" stroke-opacity="0.8"/>
<rect x="529.63" y="438.9" width="4.2" height="1.9" fill="#1fa67b"/>
<line x1="537.34" x2="537.34" y1="436.3" y2="440.4" stroke="#1fa67b" stroke-width="1" stroke-opacity="0.8"/>
<rect x="535.24" y="437.6" width="4.2" height="1.3" fill="#1fa67b"/>
<line x1="542.95" x2="542.95" y1="426.3" y2="438.2" stroke="#1fa67b" stroke-width="1" stroke-opacity="0.8"/>
<rect x="540.85" y="427.2" width="4.2" height="11.0" fill="#1fa67b"/>
<line x1="548.55" x2="548.55" y1="390.7" y2="426.6" stroke="#1fa67b" stroke-width="1" stroke-opacity="0.8"/>
<rect x="546.45" y="396.4" width="4.2" height="30.2" fill="#1fa67b"/>
<line x1="554.16" x2="554.16" y1="361.4" y2="396.4" stroke="#1fa67b" stroke-width="1" stroke-opacity="0.8"/>
<rect x="552.06" y="383.7" width="4.2" height="12.7" fill="#1fa67b"/>
<line x1="559.76" x2="559.76" y1="380.3" y2="416.2" stroke="#ee425c" stroke-width="1" stroke-opacity="0.8"/>
<rect x="557.66" y="383.2" width="4.2" height="19.8" fill="#ee425c"/>
<line x1="565.37" x2="565.37" y1="397.3" y2="403.9" stroke="#1fa67b" stroke-width="1" stroke-opacity="0.8"/>
<rect x="563.26" y="399.8" width="4.2" height="1.3" fill="#1fa67b"/>
<line x1="570.97" x2="570.97" y1="393.6" y2="410.6" stroke="#1fa67b" stroke-width="1" stroke-opacity="0.8"/>
<rect x="568.87" y="399.8" width="4.2" height="1.7" fill="#1fa67b"/>
<line x1="576.58" x2="576.58" y1="400.2" y2="407.7" stroke="#ee425c" stroke-width="1" stroke-opacity="0.8"/>
<rect x="574.48" y="400.2" width="4.2" height="3.2" fill="#ee425c"/>
<line x1="582.18" x2="582.18" y1="391.7" y2="406.8" stroke="#1fa67b" stroke-width="1" stroke-opacity="0.8"/>
<rect x="580.08" y="395.4" width="4.2" height="8.5" fill="#1fa67b"/>
<line x1="587.79" x2="587.79" y1="395.4" y2="422.8" stroke="#ee425c" stroke-width="1" stroke-opacity="0.8"/>
<rect x="585.69" y="395.4" width="4.2" height="17.9" fill="#ee425c"/>
<line x1="593.39" x2="593.39" y1="408.9" y2="419.3" stroke="#ee425c" stroke-width="1" stroke-opacity="0.8"/>
<rect x="591.29" y="412.7" width="4.2" height="1.9" fill="#ee425c"/>
<line x1="599.00" x2="599.00" y1="410.8" y2="422.2" stroke="#ee425c" stroke-width="1" stroke-opacity="0.8"/>
<rect x="596.90" y="413.7" width="4.2" height="1.9" fill="#ee425c"/>
<line x1="604.60" x2="604.60" y1="398.6" y2="415.2" stroke="#1fa67b" stroke-width="1" stroke-opacity="0.8"/>
<rect x="602.50" y="400.4" width="4.2" height="14.7" fill="#1fa67b"/>
<line x1="610.21" x2="610.21" y1="400.8" y2="407.1" stroke="#ee425c" stroke-width="1" stroke-opacity="0.8"/>
<rect x="608.11" y="400.8" width="4.2" height="3.8" fill="#ee425c"/>
<line x1="615.81" x2="615.81" y1="403.8" y2="411.8" stroke="#ee425c" stroke-width="1" stroke-opacity="0.8"/>
<rect x="613.71" y="403.8" width="4.2" height="2.6" fill="#ee425c"/>
<line x1="621.42" x2="621.42" y1="400.4" y2="408.9" stroke="#1fa67b" stroke-width="1" stroke-opacity="0.8"/>
<rect x="619.32" y="403.3" width="4.2" height="2.8" fill="#1fa67b"/>
<line x1="627.02" x2="627.02" y1="403.3" y2="408.9" stroke="#ee425c" stroke-width="1" stroke-opacity="0.8"/>
<rect x="624.92" y="403.3" width="4.2" height="1.9" fill="#ee425c"/>
<line x1="632.63" x2="632.63" y1="402.0" y2="407.1" stroke="#ee425c" stroke-width="1" stroke-opacity="0.8"/>
<rect x="630.53" y="403.7" width="4.2" height="1.9" fill="#ee425c"/>
<line x1="638.23" x2="638.23" y1="402.0" y2="405.2" stroke="#1fa67b" stroke-width="1" stroke-opacity="0.8"/>
<rect x="636.13" y="402.0" width="4.2" height="3.2" fill="#1fa67b"/>
<line x1="643.84" x2="643.84" y1="391.9" y2="410.3" stroke="#ee425c" stroke-width="1" stroke-opacity="0.8"/>
<rect x="641.74" y="402.3" width="4.2" height="5.3" fill="#ee425c"/>
<line x1="649.44" x2="649.44" y1="400.1" y2="407.4" stroke="#1fa67b" stroke-width="1" stroke-opacity="0.8"/>
<rect x="647.34" y="404.8" width="4.2" height="2.6" fill="#1fa67b"/>
<line x1="655.05" x2="655.05" y1="401.4" y2="405.5" stroke="#1fa67b" stroke-width="1" stroke-opacity="0.8"/>
<rect x="652.95" y="402.9" width="4.2" height="2.6" fill="#1fa67b"/>
<line x1="660.65" x2="660.65" y1="402.9" y2="406.1" stroke="#ee425c" stroke-width="1" stroke-opacity="0.8"/>
<rect x="658.55" y="402.9" width="4.2" height="1.3" fill="#ee425c"/>
<line x1="666.26" x2="666.26" y1="403.7" y2="407.4" stroke="#ee425c" stroke-width="1" stroke-opacity="0.8"/>
<rect x="664.16" y="403.7" width="4.2" height="1.5" fill="#ee425c"/>
<line x1="671.86" x2="671.86" y1="399.5" y2="404.6" stroke="#1fa67b" stroke-width="1" stroke-opacity="0.8"/>
<rect x="669.76" y="399.5" width="4.2" height="5.1" fill="#1fa67b"/>
<line x1="677.47" x2="677.47" y1="392.9" y2="400.1" stroke="#1fa67b" stroke-width="1" stroke-opacity="0.8"/>
<rect x="675.37" y="395.7" width="4.2" height="4.3" fill="#1fa67b"/>
<line x1="683.07" x2="683.07" y1="383.1" y2="399.5" stroke="#1fa67b" stroke-width="1" stroke-opacity="0.8"/>
<rect x="680.97" y="386.8" width="4.2" height="9.4" fill="#1fa67b"/>
<line x1="688.68" x2="688.68" y1="377.4" y2="397.6" stroke="#ee425c" stroke-width="1" stroke-opacity="0.8"/>
<rect x="686.58" y="387.2" width="4.2" height="4.7" fill="#ee425c"/>
<line x1="694.28" x2="694.28" y1="380.6" y2="396.3" stroke="#1fa67b" stroke-width="1" stroke-opacity="0.8"/>
<rect x="692.18" y="385.9" width="4.2" height="6.0" fill="#1fa67b"/>
<line x1="699.89" x2="699.89" y1="378.7" y2="391.0" stroke="#ee425c" stroke-width="1" stroke-opacity="0.8"/>
<rect x="697.79" y="385.9" width="4.2" height="2.3" fill="#ee425c"/>
<line x1="705.49" x2="705.49" y1="387.6" y2="393.8" stroke="#ee425c" stroke-width="1" stroke-opacity="0.8"/>
<rect x="703.39" y="387.6" width="4.2" height="4.3" fill="#ee425c"/>
<line x1="711.10" x2="711.10" y1="381.6" y2="391.4" stroke="#1fa67b" stroke-width="1" stroke-opacity="0.8"/>
<rect x="709.00" y="383.8" width="4.2" height="7.6" fill="#1fa67b"/>
<line x1="716.70" x2="716.70" y1="373.1" y2="385.0" stroke="#1fa67b" stroke-width="1" stroke-opacity="0.8"/>
<rect x="714.60" y="376.3" width="4.2" height="8.7" fill="#1fa67b"/>
<line x1="722.31" x2="722.31" y1="374.0" y2="385.0" stroke="#ee425c" stroke-width="1" stroke-opacity="0.8"/>
<rect x="720.21" y="375.5" width="4.2" height="2.3" fill="#ee425c"/>
<line x1="727.91" x2="727.91" y1="374.0" y2="381.2" stroke="#ee425c" stroke-width="1" stroke-opacity="0.8"/>
<rect x="725.81" y="376.5" width="4.2" height="1.9" fill="#ee425c"/>
<line x1="733.52" x2="733.52" y1="366.4" y2="378.3" stroke="#1fa67b" stroke-width="1" stroke-opacity="0.8"/>
<rect x="731.42" y="369.8" width="4.2" height="8.5" fill="#1fa67b"/>
<line x1="739.12" x2="739.12" y1="356.1" y2="373.1" stroke="#ee425c" stroke-width="1" stroke-opacity="0.8"/>
<rect x="737.02" y="369.8" width="4.2" height="1.9" fill="#ee425c"/>
<line x1="744.73" x2="744.73" y1="357.6" y2="370.8" stroke="#1fa67b" stroke-width="1" stroke-opacity="0.8"/>
<rect x="742.62" y="360.1" width="4.2" height="10.8" fill="#1fa67b"/>
<line x1="750.33" x2="750.33" y1="358.9" y2="365.2" stroke="#1fa67b" stroke-width="1" stroke-opacity="0.8"/>
<rect x="748.23" y="358.9" width="4.2" height="1.9" fill="#1fa67b"/>
<line x1="755.94" x2="755.94" y1="358.2" y2="368.0" stroke="#ee425c" stroke-width="1" stroke-opacity="0.8"/>
<rect x="753.84" y="359.1" width="4.2" height="3.2" fill="#ee425c"/>
<line x1="761.54" x2="761.54" y1="347.2" y2="362.0" stroke="#1fa67b" stroke-width="1" stroke-opacity="0.8"/>
<rect x="759.44" y="349.5" width="4.2" height="12.5" fill="#1fa67b"/>
<line x1="767.15" x2="767.15" y1="334.9" y2="352.9" stroke="#1fa67b" stroke-width="1" stroke-opacity="0.8"/>
<rect x="765.05" y="337.2" width="4.2" height="12.8" fill="#1fa67b"/>
<line x1="772.75" x2="772.75" y1="331.2" y2="341.6" stroke="#1fa67b" stroke-width="1" stroke-opacity="0.8"/>
<rect x="770.65" y="335.5" width="4.2" height="2.3" fill="#1fa67b"/>
<line x1="778.36" x2="778.36" y1="329.3" y2="358.6" stroke="#ee425c" stroke-width="1" stroke-opacity="0.8"/>
<rect x="776.26" y="335.5" width="4.2" height="12.7" fill="#ee425c"/>
<line x1="783.96" x2="783.96" y1="343.4" y2="356.3" stroke="#ee425c" stroke-width="1" stroke-opacity="0.8"/>
<rect x="781.86" y="347.2" width="4.2" height="3.4" fill="#ee425c"/>
<line x1="789.57" x2="789.57" y1="341.6" y2="352.5" stroke="#1fa67b" stroke-width="1" stroke-opacity="0.8"/>
<rect x="787.47" y="347.2" width="4.2" height="3.4" fill="#1fa67b"/>
<line x1="795.17" x2="795.17" y1="344.4" y2="351.0" stroke="#ee425c" stroke-width="1" stroke-opacity="0.8"/>
<rect x="793.07" y="347.2" width="4.2" height="1.9" fill="#ee425c"/>
<line x1="800.78" x2="800.78" y1="345.0" y2="350.6" stroke="#1fa67b" stroke-width="1" stroke-opacity="0.8"/>
<rect x="798.68" y="346.3" width="4.2" height="2.5" fill="#1fa67b"/>
<line x1="806.38" x2="806.38" y1="341.9" y2="347.2" stroke="#1fa67b" stroke-width="1" stroke-opacity="0.8"/>
<rect x="804.28" y="343.4" width="4.2" height="3.8" fill="#1fa67b"/>
<line x1="811.99" x2="811.99" y1="343.4" y2="357.6" stroke="#ee425c" stroke-width="1" stroke-opacity="0.8"/>
<rect x="809.89" y="343.4" width="4.2" height="10.4" fill="#ee425c"/>
<line x1="817.59" x2="817.59" y1="353.5" y2="372.7" stroke="#ee425c" stroke-width="1" stroke-opacity="0.8"/>
<rect x="815.49" y="353.5" width="4.2" height="13.6" fill="#ee425c"/>
<line x1="823.20" x2="823.20" y1="358.2" y2="367.1" stroke="#1fa67b" stroke-width="1" stroke-opacity="0.8"/>
<rect x="821.10" y="364.2" width="4.2" height="2.8" fill="#1fa67b"/>
<line x1="828.80" x2="828.80" y1="352.9" y2="364.8" stroke="#1fa67b" stroke-width="1" stroke-opacity="0.8"/>
<rect x="826.70" y="354.8" width="4.2" height="10.0" fill="#1fa67b"/>
<line x1="834.41" x2="834.41" y1="354.4" y2="360.4" stroke="#ee425c" stroke-width="1" stroke-opacity="0.8"/>
<rect x="832.31" y="354.4" width="4.2" height="2.3" fill="#ee425c"/>
<line x1="840.01" x2="840.01" y1="350.4" y2="356.3" stroke="#1fa67b" stroke-width="1" stroke-opacity="0.8"/>
<rect x="837.91" y="350.4" width="4.2" height="5.9" fill="#1fa67b"/>
<line x1="845.62" x2="845.62" y1="350.6" y2="355.3" stroke="#ee425c" stroke-width="1" stroke-opacity="0.8"/>
<rect x="843.52" y="350.6" width="4.2" height="4.7" fill="#ee425c"/>
<line x1="851.22" x2="851.22" y1="351.0" y2="368.0" stroke="#ee425c" stroke-width="1" stroke-opacity="0.8"/>
<rect x="849.12" y="354.4" width="4.2" height="13.6" fill="#ee425c"/>
<line x1="856.83" x2="856.83" y1="360.8" y2="368.0" stroke="#1fa67b" stroke-width="1" stroke-opacity="0.8"/>
<rect x="854.73" y="363.3" width="4.2" height="4.7" fill="#1fa67b"/>
<line x1="862.43" x2="862.43" y1="357.6" y2="377.4" stroke="#ee425c" stroke-width="1" stroke-opacity="0.8"/>
<rect x="860.33" y="362.9" width="4.2" height="7.0" fill="#ee425c"/>
<line x1="868.04" x2="868.04" y1="365.2" y2="375.6" stroke="#1fa67b" stroke-width="1" stroke-opacity="0.8"/>
<rect x="865.94" y="367.1" width="4.2" height="2.8" fill="#1fa67b"/>
<line x1="873.64" x2="873.64" y1="361.4" y2="368.0" stroke="#1fa67b" stroke-width="1" stroke-opacity="0.8"/>
<rect x="871.54" y="361.4" width="4.2" height="6.6" fill="#1fa67b"/>
<line x1="879.25" x2="879.25" y1="355.2" y2="366.1" stroke="#1fa67b" stroke-width="1" stroke-opacity="0.8"/>
<rect x="877.15" y="357.6" width="4.2" height="4.2" fill="#1fa67b"/>
<line x1="884.85" x2="884.85" y1="352.5" y2="358.0" stroke="#1fa67b" stroke-width="1" stroke-opacity="0.8"/>
<rect x="882.75" y="356.3" width="4.2" height="1.7" fill="#1fa67b"/>
<line x1="890.46" x2="890.46" y1="356.1" y2="360.8" stroke="#1fa67b" stroke-width="1" stroke-opacity="0.8"/>
<rect x="888.36" y="356.1" width="4.2" height="1.2" fill="#1fa67b"/>
<line x1="896.06" x2="896.06" y1="354.6" y2="358.9" stroke="#1fa67b" stroke-width="1" stroke-opacity="0.8"/>
<rect x="893.96" y="354.6" width="4.2" height="1.9" fill="#1fa67b"/>
<line x1="901.67" x2="901.67" y1="352.0" y2="363.7" stroke="#ee425c" stroke-width="1" stroke-opacity="0.8"/>
<rect x="899.57" y="354.2" width="4.2" height="4.7" fill="#ee425c"/>
<line x1="907.27" x2="907.27" y1="355.2" y2="358.9" stroke="#1fa67b" stroke-width="1" stroke-opacity="0.8"/>
<rect x="905.17" y="355.2" width="4.2" height="3.8" fill="#1fa67b"/>
<line x1="912.88" x2="912.88" y1="346.7" y2="355.2" stroke="#1fa67b" stroke-width="1" stroke-opacity="0.8"/>
<rect x="910.78" y="350.4" width="4.2" height="4.7" fill="#1fa67b"/>
<line x1="918.48" x2="918.48" y1="345.7" y2="361.8" stroke="#ee425c" stroke-width="1" stroke-opacity="0.8"/>
<rect x="916.38" y="350.4" width="4.2" height="7.9" fill="#ee425c"/>
<line x1="924.09" x2="924.09" y1="350.1" y2="358.0" stroke="#1fa67b" stroke-width="1" stroke-opacity="0.8"/>
<rect x="921.99" y="352.9" width="4.2" height="5.1" fill="#1fa67b"/>
<line x1="929.69" x2="929.69" y1="352.3" y2="356.1" stroke="#ee425c" stroke-width="1" stroke-opacity="0.8"/>
<rect x="927.59" y="352.3" width="4.2" height="1.9" fill="#ee425c"/>
<line x1="935.30" x2="935.30" y1="351.4" y2="357.1" stroke="#ee425c" stroke-width="1" stroke-opacity="0.8"/>
<rect x="933.20" y="353.3" width="4.2" height="1.9" fill="#ee425c"/>
<line x1="940.90" x2="940.90" y1="354.2" y2="361.4" stroke="#ee425c" stroke-width="1" stroke-opacity="0.8"/>
<rect x="938.80" y="354.2" width="4.2" height="6.0" fill="#ee425c"/>
<line x1="946.51" x2="946.51" y1="354.2" y2="363.3" stroke="#1fa67b" stroke-width="1" stroke-opacity="0.8"/>
<rect x="944.41" y="354.2" width="4.2" height="6.0" fill="#1fa67b"/>
<line x1="952.11" x2="952.11" y1="324.4" y2="354.6" stroke="#1fa67b" stroke-width="1" stroke-opacity="0.8"/>
<rect x="950.01" y="343.8" width="4.2" height="10.8" fill="#1fa67b"/>
<line x1="957.72" x2="957.72" y1="335.3" y2="349.5" stroke="#1fa67b" stroke-width="1" stroke-opacity="0.8"/>
<rect x="955.62" y="337.2" width="4.2" height="7.2" fill="#1fa67b"/>
<line x1="963.32" x2="963.32" y1="337.2" y2="345.3" stroke="#ee425c" stroke-width="1" stroke-opacity="0.8"/>
<rect x="961.22" y="337.2" width="4.2" height="8.1" fill="#ee425c"/>
<line x1="968.93" x2="968.93" y1="342.5" y2="347.6" stroke="#1fa67b" stroke-width="1" stroke-opacity="0.8"/>
<rect x="966.83" y="342.5" width="4.2" height="2.8" fill="#1fa67b"/>
<line x1="974.53" x2="974.53" y1="340.1" y2="353.3" stroke="#ee425c" stroke-width="1" stroke-opacity="0.8"/>
<rect x="972.43" y="341.9" width="4.2" height="9.4" fill="#ee425c"/>
<line x1="980.14" x2="980.14" y1="342.9" y2="351.0" stroke="#1fa67b" stroke-width="1" stroke-opacity="0.8"/>
<rect x="978.04" y="345.2" width="4.2" height="5.9" fill="#1fa67b"/>
<line x1="985.74" x2="985.74" y1="338.7" y2="346.7" stroke="#1fa67b" stroke-width="1" stroke-opacity="0.8"/>
<rect x="983.64" y="342.9" width="4.2" height="2.8" fill="#1fa67b"/>
<line x1="991.35" x2="991.35" y1="340.1" y2="362.7" stroke="#ee425c" stroke-width="1" stroke-opacity="0.8"/>
<rect x="989.25" y="342.9" width="4.2" height="15.1" fill="#ee425c"/>
<line x1="996.95" x2="996.95" y1="355.2" y2="364.6" stroke="#ee425c" stroke-width="1" stroke-opacity="0.8"/>
<rect x="994.85" y="357.6" width="4.2" height="5.1" fill="#ee425c"/>
<line x1="1002.56" x2="1002.56" y1="357.1" y2="367.1" stroke="#1fa67b" stroke-width="1" stroke-opacity="0.8"/>
<rect x="1000.46" y="358.9" width="4.2" height="3.4" fill="#1fa67b"/>
<line x1="1008.16" x2="1008.16" y1="356.1" y2="368.4" stroke="#ee425c" stroke-width="1" stroke-opacity="0.8"/>
<rect x="1006.06" y="358.9" width="4.2" height="6.6" fill="#ee425c"/>
<line x1="1013.77" x2="1013.77" y1="363.7" y2="384.5" stroke="#ee425c" stroke-width="1" stroke-opacity="0.8"/>
<rect x="1011.67" y="365.2" width="4.2" height="12.1" fill="#ee425c"/>
<line x1="1019.37" x2="1019.37" y1="368.4" y2="377.8" stroke="#1fa67b" stroke-width="1" stroke-opacity="0.8"/>
<rect x="1017.27" y="369.9" width="4.2" height="7.9" fill="#1fa67b"/>
<line x1="1024.98" x2="1024.98" y1="360.8" y2="372.6" stroke="#1fa67b" stroke-width="1" stroke-opacity="0.8"/>
<rect x="1022.88" y="363.1" width="4.2" height="7.6" fill="#1fa67b"/>
<line x1="1030.58" x2="1030.58" y1="361.4" y2="367.8" stroke="#ee425c" stroke-width="1" stroke-opacity="0.8"/>
<rect x="1028.48" y="362.7" width="4.2" height="2.3" fill="#ee425c"/>
<line x1="1036.18" x2="1036.18" y1="359.9" y2="364.6" stroke="#1fa67b" stroke-width="1" stroke-opacity="0.8"/>
<rect x="1034.09" y="362.7" width="4.2" height="1.9" fill="#1fa67b"/>
<line x1="1041.79" x2="1041.79" y1="360.7" y2="363.1" stroke="#1fa67b" stroke-width="1" stroke-opacity="0.8"/>
<rect x="1039.69" y="360.7" width="4.2" height="2.5" fill="#1fa67b"/>
<line x1="1047.39" x2="1047.39" y1="360.7" y2="369.7" stroke="#ee425c" stroke-width="1" stroke-opacity="0.8"/>
<rect x="1045.30" y="360.7" width="4.2" height="9.1" fill="#ee425c"/>
<line x1="1053.00" x2="1053.00" y1="366.0" y2="375.4" stroke="#ee425c" stroke-width="1" stroke-opacity="0.8"/>
<rect x="1050.90" y="369.2" width="4.2" height="3.8" fill="#ee425c"/>
<line x1="1058.61" x2="1058.61" y1="370.3" y2="383.0" stroke="#ee425c" stroke-width="1" stroke-opacity="0.8"/>
<rect x="1056.51" y="372.2" width="4.2" height="4.2" fill="#ee425c"/>
<line x1="1064.21" x2="1064.21" y1="375.8" y2="382.0" stroke="#ee425c" stroke-width="1" stroke-opacity="0.8"/>
<rect x="1062.11" y="375.8" width="4.2" height="4.7" fill="#ee425c"/>
<line x1="1069.82" x2="1069.82" y1="371.6" y2="380.5" stroke="#1fa67b" stroke-width="1" stroke-opacity="0.8"/>
<rect x="1067.72" y="371.6" width="4.2" height="8.9" fill="#1fa67b"/>
<line x1="1075.42" x2="1075.42" y1="369.7" y2="376.0" stroke="#ee425c" stroke-width="1" stroke-opacity="0.8"/>
<rect x="1073.32" y="371.6" width="4.2" height="1.9" fill="#ee425c"/>
<line x1="1081.03" x2="1081.03" y1="370.3" y2="373.5" stroke="#1fa67b" stroke-width="1" stroke-opacity="0.8"/>
<rect x="1078.93" y="372.0" width="4.2" height="1.5" fill="#1fa67b"/>
<line x1="1086.63" x2="1086.63" y1="365.0" y2="372.6" stroke="#1fa67b" stroke-width="1" stroke-opacity="0.8"/>
<rect x="1084.53" y="370.3" width="4.2" height="2.3" fill="#1fa67b"/>
<line x1="1092.23" x2="1092.23" y1="367.8" y2="372.6" stroke="#ee425c" stroke-width="1" stroke-opacity="0.8"/>
<rect x="1090.13" y="370.1" width="4.2" height="1.5" fill="#ee425c"/>
<line x1="1097.84" x2="1097.84" y1="363.1" y2="371.2" stroke="#1fa67b" stroke-width="1" stroke-opacity="0.8"/>
<rect x="1095.74" y="363.1" width="4.2" height="8.1" fill="#1fa67b"/>
<line x1="1103.44" x2="1103.44" y1="363.1" y2="366.9" stroke="#ee425c" stroke-width="1" stroke-opacity="0.8"/>
<rect x="1101.35" y="363.1" width="4.2" height="1.5" fill="#ee425c"/>
<line x1="1109.05" x2="1109.05" y1="351.8" y2="364.6" stroke="#1fa67b" stroke-width="1" stroke-opacity="0.8"/>
<rect x="1106.95" y="355.6" width="4.2" height="9.1" fill="#1fa67b"/>
<line x1="1114.65" x2="1114.65" y1="348.0" y2="361.2" stroke="#1fa67b" stroke-width="1" stroke-opacity="0.8"/>
<rect x="1112.56" y="352.3" width="4.2" height="3.6" fill="#1fa67b"/>
<line x1="1120.26" x2="1120.26" y1="342.0" y2="352.7" stroke="#1fa67b" stroke-width="1" stroke-opacity="0.8"/>
<rect x="1118.16" y="345.2" width="4.2" height="7.6" fill="#1fa67b"/>
<line x1="1125.87" x2="1125.87" y1="345.2" y2="351.8" stroke="#ee425c" stroke-width="1" stroke-opacity="0.8"/>
<rect x="1123.77" y="345.2" width="4.2" height="1.9" fill="#ee425c"/>
<line x1="1131.47" x2="1131.47" y1="338.9" y2="347.1" stroke="#1fa67b" stroke-width="1" stroke-opacity="0.8"/>
<rect x="1129.37" y="341.0" width="4.2" height="6.0" fill="#1fa67b"/>
<line x1="1137.08" x2="1137.08" y1="331.9" y2="341.4" stroke="#1fa67b" stroke-width="1" stroke-opacity="0.8"/>
<rect x="1134.98" y="331.9" width="4.2" height="9.4" fill="#1fa67b"/>
<line x1="1142.68" x2="1142.68" y1="325.3" y2="332.3" stroke="#1fa67b" stroke-width="1" stroke-opacity="0.8"/>
<rect x="1140.58" y="328.5" width="4.2" height="3.8" fill="#1fa67b"/>
<line x1="1148.29" x2="1148.29" y1="311.2" y2="328.7" stroke="#1fa67b" stroke-width="1" stroke-opacity="0.8"/>
<rect x="1146.19" y="312.5" width="4.2" height="16.2" fill="#1fa67b"/>
<line x1="1153.89" x2="1153.89" y1="293.2" y2="316.8" stroke="#1fa67b" stroke-width="1" stroke-opacity="0.8"/>
<rect x="1151.79" y="306.4" width="4.2" height="6.0" fill="#1fa67b"/>
<line x1="1159.49" x2="1159.49" y1="304.2" y2="316.8" stroke="#ee425c" stroke-width="1" stroke-opacity="0.8"/>
<rect x="1157.39" y="306.4" width="4.2" height="1.3" fill="#ee425c"/>
<line x1="1165.10" x2="1165.10" y1="306.1" y2="312.1" stroke="#1fa67b" stroke-width="1" stroke-opacity="0.8"/>
<rect x="1163.00" y="306.1" width="4.2" height="1.3" fill="#1fa67b"/>
<line x1="1170.70" x2="1170.70" y1="301.2" y2="309.7" stroke="#ee425c" stroke-width="1" stroke-opacity="0.8"/>
<rect x="1168.61" y="306.1" width="4.2" height="3.6" fill="#ee425c"/>
<line x1="1176.31" x2="1176.31" y1="307.4" y2="315.9" stroke="#ee425c" stroke-width="1" stroke-opacity="0.8"/>
<rect x="1174.21" y="308.9" width="4.2" height="1.3" fill="#ee425c"/>
<polygon points="43.4,543.1 44.1,543.1 49.7,543.3 55.3,543.5 60.9,543.7 66.5,543.8 72.1,543.6 77.7,543.2 83.3,542.8 88.9,542.4 94.5,542.0 100.2,541.9 105.8,542.2 111.4,542.6 117.0,543.0 122.6,543.4 128.2,543.8 133.8,544.1 139.4,544.4 145.0,544.6 150.6,544.9 156.2,545.5 161.8,546.2 167.4,546.9 173.0,547.6 178.6,548.3 184.2,549.0 189.8,549.7 195.4,550.3 201.0,550.6 206.6,550.4 212.2,550.2 217.9,550.2 223.5,549.7 229.1,548.0 234.7,545.9 240.3,544.3 245.9,543.1 251.5,542.3 257.1,541.5 262.7,540.9 268.3,540.3 273.9,539.7 279.5,539.2 285.1,538.9 290.7,538.6 296.3,538.6 301.9,538.8 307.5,538.9 313.1,539.1 318.7,539.3 324.4,539.5 330.0,540.0 335.6,540.5 341.2,540.9 346.8,541.3 352.4,541.5 358.0,541.5 363.6,541.4 369.2,541.2 374.8,540.8 380.4,539.8 386.0,537.6 391.6,534.2 397.2,531.1 402.8,528.6 408.4,526.2 414.0,523.9 419.6,521.5 425.2,519.0 430.8,516.5 436.5,513.9 442.1,511.6 447.7,509.1 453.3,505.7 458.9,500.9 464.5,495.8 470.1,491.6 475.7,486.7 481.3,479.6 486.9,471.6 492.5,464.5 498.1,458.6 503.7,453.7 509.3,449.5 514.9,445.8 520.5,442.8 526.1,440.3 531.7,438.3 537.3,435.8 542.9,431.1 548.6,422.5 548.6,465.3 542.9,469.0 537.3,472.2 531.7,475.5 526.1,478.6 520.5,481.8 514.9,485.9 509.3,490.5 503.7,495.1 498.1,500.1 492.5,505.1 486.9,509.4 481.3,513.4 475.7,517.1 470.1,520.7 464.5,524.0 458.9,526.8 453.3,529.3 447.7,531.6 442.1,533.9 436.5,536.3 430.8,538.8 425.2,541.3 419.6,543.8 414.0,546.2 408.4,548.6 402.8,550.9 397.2,553.1 391.6,554.9 386.0,555.8 380.4,556.4 374.8,556.9 369.2,557.5 363.6,558.0 358.0,558.1 352.4,557.8 346.8,557.3 341.2,556.6 335.6,555.8 330.0,554.9 324.4,554.1 318.7,553.5 313.1,553.1 307.5,552.9 301.9,553.1 296.3,553.4 290.7,553.9 285.1,554.7 279.5,555.7 273.9,556.8 268.3,558.0 262.7,559.2 257.1,560.5 251.5,561.9 245.9,563.2 240.3,564.3 234.7,565.5 229.1,566.6 223.5,567.3 217.9,567.4 212.2,567.2 206.6,567.1 201.0,566.8 195.4,566.4 189.8,565.7 184.2,564.9 178.6,563.9 173.0,562.4 167.4,560.7 161.8,559.1 156.2,558.1 150.6,557.7 145.0,557.6 139.4,557.7 133.8,557.7 128.2,557.5 122.6,557.2 117.0,556.9 111.4,556.5 105.8,556.2 100.2,556.1 94.5,556.4 88.9,556.8 83.3,557.0 77.7,557.1 72.1,557.3 66.5,557.3 60.9,557.3 55.3,557.2 49.7,557.1 44.1,556.9 43.4,556.9" fill="rgba(120,120,130,0.26)"/>
<polygon points="548.6,422.5 554.2,412.2 554.2,461.5 548.6,465.3" fill="rgba(60,190,90,0.30)"/>
<polygon points="554.2,412.2 559.8,404.3 565.4,399.3 571.0,395.7 576.6,392.8 582.2,390.6 587.8,389.2 593.4,388.5 593.4,442.8 587.8,444.2 582.2,446.1 576.6,448.6 571.0,451.4 565.4,454.7 559.8,458.0 554.2,461.5" fill="rgba(255,70,70,0.32)"/>
<polygon points="593.4,388.5 599.0,388.1 604.6,387.5 610.2,387.0 615.8,386.7 621.4,386.4 627.0,386.2 632.6,386.2 638.2,386.3 643.8,386.4 649.4,386.6 655.0,386.7 660.7,386.9 666.3,386.8 671.9,386.1 677.5,384.3 683.1,381.6 688.7,379.1 694.3,377.2 699.9,376.0 705.5,375.0 711.1,373.5 716.7,371.7 722.3,369.5 727.9,367.1 733.5,364.4 739.1,361.4 744.7,358.4 750.3,355.5 755.9,352.2 761.5,348.1 767.1,343.9 772.8,340.0 778.4,336.9 784.0,334.6 789.6,333.2 795.2,332.4 800.8,332.0 806.4,331.9 812.0,332.0 817.6,332.5 823.2,333.3 828.8,333.9 834.4,334.4 840.0,335.0 845.6,335.7 851.2,336.5 856.8,337.2 862.4,338.0 868.0,338.7 873.6,339.2 879.2,339.4 884.9,339.6 890.5,339.7 896.1,339.6 901.7,339.3 907.3,338.9 912.9,338.6 918.5,338.4 924.1,338.3 929.7,338.2 935.3,338.1 940.9,337.5 946.5,335.9 952.1,333.6 957.7,331.8 963.3,330.6 968.9,330.0 974.5,329.5 980.1,329.0 985.7,328.5 991.3,328.5 997.0,329.3 1002.6,330.5 1008.2,331.8 1013.8,333.2 1019.4,334.5 1025.0,335.8 1030.6,337.1 1036.2,338.6 1041.8,339.8 1047.4,341.3 1053.0,342.9 1058.6,344.7 1064.2,346.3 1069.8,347.5 1075.4,348.5 1081.0,349.3 1086.6,350.1 1092.2,350.5 1097.8,350.4 1103.4,349.6 1109.0,347.8 1114.7,345.5 1120.3,343.0 1125.9,340.3 1131.5,337.2 1137.1,333.6 1142.7,329.3 1148.3,324.4 1153.9,319.3 1159.5,314.7 1165.1,311.2 1170.7,308.3 1170.7,348.9 1165.1,351.8 1159.5,355.1 1153.9,359.0 1148.3,362.9 1142.7,366.8 1137.1,370.7 1131.5,374.3 1125.9,377.5 1120.3,380.1 1114.7,382.1 1109.0,383.6 1103.4,384.8 1097.8,385.6 1092.2,386.1 1086.6,386.4 1081.0,386.5 1075.4,386.5 1069.8,386.2 1064.2,385.6 1058.6,384.3 1053.0,382.8 1047.4,381.6 1041.8,380.8 1036.2,380.7 1030.6,381.3 1025.0,381.4 1019.4,380.6 1013.8,379.0 1008.2,376.9 1002.6,374.8 997.0,372.8 991.3,370.7 985.7,368.8 980.1,368.5 974.5,369.4 968.9,370.6 963.3,372.0 957.7,373.4 952.1,374.4 946.5,374.8 940.9,374.7 935.3,374.4 929.7,374.3 924.1,374.5 918.5,375.0 912.9,375.6 907.3,376.2 901.7,376.9 896.1,377.5 890.5,378.4 884.9,379.9 879.2,381.3 873.6,381.9 868.0,381.8 862.4,381.3 856.8,380.1 851.2,378.7 845.6,377.3 840.0,376.6 834.4,376.8 828.8,377.5 823.2,378.2 817.6,378.0 812.0,376.8 806.4,375.7 800.8,376.3 795.2,378.2 789.6,380.1 784.0,381.8 778.4,383.3 772.8,385.2 767.1,388.1 761.5,391.6 755.9,395.1 750.3,398.4 744.7,401.7 739.1,404.7 733.5,407.2 727.9,409.3 722.3,411.3 716.7,413.2 711.1,415.0 705.5,416.6 699.9,417.8 694.3,418.6 688.7,419.5 683.1,420.8 677.5,422.4 671.9,423.9 666.3,425.3 660.7,426.7 655.0,427.9 649.4,428.8 643.8,429.7 638.2,430.6 632.6,431.8 627.0,433.2 621.4,434.7 615.8,436.4 610.2,438.3 604.6,440.1 599.0,441.6 593.4,442.8" fill="rgba(120,120,130,0.26)"/>
<polygon points="43.4,541.4 44.1,541.4 49.7,541.6 55.3,541.9 60.9,542.1 66.5,542.1 72.1,541.9 77.7,541.5 83.3,541.1 88.9,540.7 94.5,540.3 100.2,540.2 105.8,540.5 111.4,540.9 117.0,541.3 122.6,541.7 128.2,542.1 133.8,542.5 139.4,542.7 145.0,543.0 150.6,543.3 156.2,543.9 161.8,544.6 167.4,545.2 173.0,545.9 178.6,546.6 184.2,547.2 189.8,547.9 195.4,548.5 201.0,548.8 206.6,548.6 212.2,548.3 217.9,548.3 223.5,547.8 229.1,546.1 234.7,544.0 240.3,542.3 245.9,541.1 251.5,540.3 257.1,539.6 262.7,538.9 268.3,538.4 273.9,537.9 279.5,537.4 285.1,537.1 290.7,536.9 296.3,536.9 301.9,537.1 307.5,537.3 313.1,537.4 318.7,537.6 324.4,537.8 330.0,538.2 335.6,538.7 341.2,539.2 346.8,539.5 352.4,539.7 358.0,539.7 363.6,539.6 369.2,539.4 374.8,539.0 380.4,538.0 386.0,535.7 391.6,532.2 397.2,529.0 402.8,526.4 408.4,524.1 414.0,521.8 419.6,519.4 425.2,516.9 430.8,514.4 436.5,511.8 442.1,509.4 447.7,507.0 453.3,503.5 458.9,498.6 464.5,493.4 470.1,489.1 475.7,484.2 481.3,476.8 486.9,468.6 492.5,461.4 498.1,455.4 503.7,450.5 509.3,446.3 514.9,442.7 520.5,439.7 526.1,437.3 531.7,435.3 537.3,432.9 542.9,428.1 548.6,419.3 554.2,408.6 554.2,415.9 548.6,425.8 542.9,434.1 537.3,438.7 531.7,441.2 526.1,443.3 520.5,445.8 514.9,448.9 509.3,452.7 503.7,456.9 498.1,461.7 492.5,467.6 486.9,474.5 481.3,482.3 475.7,489.3 470.1,494.1 464.5,498.3 458.9,503.3 453.3,507.9 447.7,511.2 442.1,513.7 436.5,516.1 430.8,518.6 425.2,521.2 419.6,523.6 414.0,526.0 408.4,528.4 402.8,530.7 397.2,533.2 391.6,536.3 386.0,539.5 380.4,541.6 374.8,542.6 369.2,543.0 363.6,543.2 358.0,543.3 352.4,543.3 346.8,543.0 341.2,542.7 335.6,542.2 330.0,541.7 324.4,541.2 318.7,541.0 313.1,540.8 307.5,540.6 301.9,540.5 296.3,540.4 290.7,540.4 285.1,540.6 279.5,541.0 273.9,541.5 268.3,542.1 262.7,542.8 257.1,543.5 251.5,544.2 245.9,545.1 240.3,546.3 234.7,547.9 229.1,549.9 223.5,551.5 217.9,552.0 212.2,552.0 206.6,552.2 201.0,552.4 195.4,552.1 189.8,551.5 184.2,550.8 178.6,550.1 173.0,549.3 167.4,548.6 161.8,547.8 156.2,547.1 150.6,546.5 145.0,546.2 139.4,546.0 133.8,545.8 128.2,545.4 122.6,545.1 117.0,544.7 111.4,544.3 105.8,543.8 100.2,543.6 94.5,543.7 88.9,544.1 83.3,544.5 77.7,544.8 72.1,545.2 66.5,545.4 60.9,545.4 55.3,545.2 49.7,545.0 44.1,544.8 43.4,544.8" fill="#787884" fill-opacity="0.30" stroke="#787884" stroke-opacity="0.12" stroke-width="1.2" stroke-linejoin="round"/>
<polyline points="43.4,543.1 44.1,543.1 49.7,543.3 55.3,543.5 60.9,543.7 66.5,543.8 72.1,543.6 77.7,543.2 83.3,542.8 88.9,542.4 94.5,542.0 100.2,541.9 105.8,542.2 111.4,542.6 117.0,543.0 122.6,543.4 128.2,543.8 133.8,544.1 139.4,544.4 145.0,544.6 150.6,544.9 156.2,545.5 161.8,546.2 167.4,546.9 173.0,547.6 178.6,548.3 184.2,549.0 189.8,549.7 195.4,550.3 201.0,550.6 206.6,550.4 212.2,550.2 217.9,550.2 223.5,549.7 229.1,548.0 234.7,545.9 240.3,544.3 245.9,543.1 251.5,542.3 257.1,541.5 262.7,540.9 268.3,540.3 273.9,539.7 279.5,539.2 285.1,538.9 290.7,538.6 296.3,538.6 301.9,538.8 307.5,538.9 313.1,539.1 318.7,539.3 324.4,539.5 330.0,540.0 335.6,540.5 341.2,540.9 346.8,541.3 352.4,541.5 358.0,541.5 363.6,541.4 369.2,541.2 374.8,540.8 380.4,539.8 386.0,537.6 391.6,534.2 397.2,531.1 402.8,528.6 408.4,526.2 414.0,523.9 419.6,521.5 425.2,519.0 430.8,516.5 436.5,513.9 442.1,511.6 447.7,509.1 453.3,505.7 458.9,500.9 464.5,495.8 470.1,491.6 475.7,486.7 481.3,479.6 486.9,471.6 492.5,464.5 498.1,458.6 503.7,453.7 509.3,449.5 514.9,445.8 520.5,442.8 526.1,440.3 531.7,438.3 537.3,435.8 542.9,431.1 548.6,422.5 554.2,412.2" fill="none" stroke="#787884" stroke-width="1.4" stroke-opacity="0.42" stroke-linejoin="round" stroke-linecap="butt"/>
<polyline points="43.4,543.8 44.1,543.8 49.7,544.0 55.3,544.3 60.9,544.5 66.5,544.5 72.1,544.3 77.7,543.9 83.3,543.5 88.9,543.1 94.5,542.7 100.2,542.5 105.8,542.8 111.4,543.1 117.0,543.5 122.6,543.9 128.2,544.2 133.8,544.5 139.4,544.8 145.0,545.0 150.6,545.3 156.2,545.9 161.8,546.6 167.4,547.4 173.0,548.2 178.6,549.0 184.2,549.7 189.8,550.4 195.4,551.1 201.0,551.4 206.6,551.3 212.2,551.1 217.9,551.1 223.5,550.6 229.1,548.9 234.7,546.9 240.3,545.2 245.9,544.0 251.5,543.1 257.1,542.3 262.7,541.5 268.3,540.9 273.9,540.3 279.5,539.7 285.1,539.3 290.7,539.1 296.3,539.1 301.9,539.2 307.5,539.4 313.1,539.6 318.7,539.8 324.4,540.1 330.0,540.6 335.6,541.1 341.2,541.6 346.8,542.0 352.4,542.3 358.0,542.4 363.6,542.3 369.2,542.1 374.8,541.6 380.4,540.7 386.0,538.5 391.6,535.2 397.2,532.1 402.8,529.5 408.4,527.1 414.0,524.7 419.6,522.3 425.2,519.8 430.8,517.1 436.5,514.6 442.1,512.2 447.7,509.7 453.3,506.3 458.9,501.6 464.5,496.6 470.1,492.4 475.7,487.7 481.3,480.7 486.9,472.9 492.5,466.0 498.1,460.2 503.7,455.4 509.3,451.3 514.9,447.6 520.5,444.5 526.1,442.1 531.7,440.0 537.3,437.4 542.9,432.7 548.6,424.2 554.2,414.1" fill="none" stroke="#787884" stroke-width="1.2" stroke-opacity="0.3" stroke-linejoin="round" stroke-linecap="butt"/>
<polyline points="43.4,542.3 44.1,542.3 49.7,542.6 55.3,542.8 60.9,543.1 66.5,543.2 72.1,543.0 77.7,542.6 83.3,542.3 88.9,541.9 94.5,541.6 100.2,541.5 105.8,541.7 111.4,542.2 117.0,542.6 122.6,542.9 128.2,543.3 133.8,543.6 139.4,543.8 145.0,544.0 150.6,544.3 156.2,544.9 161.8,545.5 167.4,546.2 173.0,546.8 178.6,547.5 184.2,548.2 189.8,548.8 195.4,549.4 201.0,549.8 206.6,549.6 212.2,549.4 217.9,549.4 223.5,549.0 229.1,547.3 234.7,545.3 240.3,543.6 245.9,542.5 251.5,541.7 257.1,541.0 262.7,540.3 268.3,539.7 273.9,539.2 279.5,538.7 285.1,538.3 290.7,538.1 296.3,538.0 301.9,538.2 307.5,538.3 313.1,538.4 318.7,538.6 324.4,538.8 330.0,539.1 335.6,539.6 341.2,540.1 346.8,540.4 352.4,540.6 358.0,540.7 363.6,540.6 369.2,540.5 374.8,540.1 380.4,539.2 386.0,536.9 391.6,533.6 397.2,530.4 402.8,527.9 408.4,525.6 414.0,523.3 419.6,520.9 425.2,518.4 430.8,515.8 436.5,513.2 442.1,510.8 447.7,508.3 453.3,504.8 458.9,499.9 464.5,494.7 470.1,490.3 475.7,485.4 481.3,478.1 486.9,469.8 492.5,462.7 498.1,456.7 503.7,451.9 509.3,447.8 514.9,444.2 520.5,441.3 526.1,438.9 531.7,437.0 537.3,434.6 542.9,430.0 548.6,421.3 554.2,411.0" fill="none" stroke="#787884" stroke-width="1.2" stroke-opacity="0.3" stroke-linejoin="round" stroke-linecap="butt"/>
<polygon points="593.4,384.6 599.0,384.2 604.6,383.7 610.2,383.3 615.8,383.1 621.4,382.9 627.0,382.7 632.6,382.8 638.2,383.0 643.8,383.1 649.4,383.3 655.0,383.6 660.7,383.8 666.3,383.8 671.9,383.1 677.5,381.3 683.1,378.6 688.7,376.0 694.3,374.1 699.9,372.8 705.5,371.8 711.1,370.4 716.7,368.5 722.3,366.3 727.9,363.9 733.5,361.1 739.1,358.1 744.7,355.1 750.3,352.3 755.9,348.9 761.5,344.8 767.1,340.6 772.8,336.7 778.4,333.5 784.0,331.1 789.6,329.7 795.2,329.0 800.8,328.6 806.4,328.5 812.0,328.7 817.6,329.1 823.2,329.9 828.8,330.6 834.4,331.2 840.0,331.8 845.6,332.5 851.2,333.2 856.8,334.0 862.4,334.7 868.0,335.4 873.6,335.9 879.2,336.2 884.9,336.5 890.5,336.7 896.1,336.6 901.7,336.3 907.3,336.0 912.9,335.7 918.5,335.5 924.1,335.4 929.7,335.3 935.3,335.2 940.9,334.6 946.5,332.9 952.1,330.5 957.7,328.6 963.3,327.5 968.9,326.9 974.5,326.4 980.1,325.9 985.7,325.4 991.3,325.3 997.0,326.0 1002.6,327.2 1008.2,328.4 1013.8,329.8 1019.4,331.1 1025.0,332.4 1030.6,333.8 1036.2,335.3 1041.8,336.7 1047.4,338.1 1053.0,339.9 1058.6,341.6 1064.2,343.2 1069.8,344.4 1075.4,345.5 1081.0,346.4 1086.6,347.2 1092.2,347.6 1097.8,347.6 1103.4,346.7 1109.0,345.0 1114.7,342.6 1120.3,340.0 1125.9,337.3 1131.5,334.3 1137.1,330.6 1142.7,326.4 1148.3,321.4 1153.9,316.2 1159.5,311.6 1165.1,308.0 1170.7,305.2 1170.7,311.5 1165.1,314.3 1159.5,317.8 1153.9,322.4 1148.3,327.4 1142.7,332.3 1137.1,336.5 1131.5,340.1 1125.9,343.2 1120.3,345.9 1114.7,348.4 1109.0,350.7 1103.4,352.4 1097.8,353.2 1092.2,353.4 1086.6,353.0 1081.0,352.3 1075.4,351.4 1069.8,350.5 1064.2,349.3 1058.6,347.8 1053.0,346.0 1047.4,344.4 1041.8,343.0 1036.2,341.8 1030.6,340.5 1025.0,339.2 1019.4,338.0 1013.8,336.6 1008.2,335.2 1002.6,333.9 997.0,332.6 991.3,331.8 985.7,331.6 980.1,332.0 974.5,332.6 968.9,333.1 963.3,333.8 957.7,334.9 952.1,336.8 946.5,338.9 940.9,340.5 935.3,341.0 929.7,341.0 924.1,341.2 918.5,341.4 912.9,341.6 907.3,341.9 901.7,342.3 896.1,342.6 890.5,342.8 884.9,342.7 879.2,342.6 873.6,342.4 868.0,341.9 862.4,341.2 856.8,340.5 851.2,339.7 845.6,338.8 840.0,338.2 834.4,337.6 828.8,337.2 823.2,336.6 817.6,335.9 812.0,335.4 806.4,335.2 800.8,335.3 795.2,335.8 789.6,336.7 784.0,338.1 778.4,340.4 772.8,343.4 767.1,347.2 761.5,351.4 755.9,355.4 750.3,358.8 744.7,361.7 739.1,364.7 733.5,367.7 727.9,370.3 722.3,372.7 716.7,374.9 711.1,376.7 705.5,378.2 699.9,379.2 694.3,380.4 688.7,382.3 683.1,384.7 677.5,387.3 671.9,389.1 666.3,389.8 660.7,390.0 655.0,389.9 649.4,389.8 643.8,389.7 638.2,389.6 632.6,389.6 627.0,389.7 621.4,390.0 615.8,390.3 610.2,390.8 604.6,391.3 599.0,391.9 593.4,392.4" fill="#787884" fill-opacity="0.30" stroke="#787884" stroke-opacity="0.12" stroke-width="1.2" stroke-linejoin="round"/>
<polyline points="593.4,388.5 599.0,388.1 604.6,387.5 610.2,387.0 615.8,386.7 621.4,386.4 627.0,386.2 632.6,386.2 638.2,386.3 643.8,386.4 649.4,386.6 655.0,386.7 660.7,386.9 666.3,386.8 671.9,386.1 677.5,384.3 683.1,381.6 688.7,379.1 694.3,377.2 699.9,376.0 705.5,375.0 711.1,373.5 716.7,371.7 722.3,369.5 727.9,367.1 733.5,364.4 739.1,361.4 744.7,358.4 750.3,355.5 755.9,352.2 761.5,348.1 767.1,343.9 772.8,340.0 778.4,336.9 784.0,334.6 789.6,333.2 795.2,332.4 800.8,332.0 806.4,331.9 812.0,332.0 817.6,332.5 823.2,333.3 828.8,333.9 834.4,334.4 840.0,335.0 845.6,335.7 851.2,336.5 856.8,337.2 862.4,338.0 868.0,338.7 873.6,339.2 879.2,339.4 884.9,339.6 890.5,339.7 896.1,339.6 901.7,339.3 907.3,338.9 912.9,338.6 918.5,338.4 924.1,338.3 929.7,338.2 935.3,338.1 940.9,337.5 946.5,335.9 952.1,333.6 957.7,331.8 963.3,330.6 968.9,330.0 974.5,329.5 980.1,329.0 985.7,328.5 991.3,328.5 997.0,329.3 1002.6,330.5 1008.2,331.8 1013.8,333.2 1019.4,334.5 1025.0,335.8 1030.6,337.1 1036.2,338.6 1041.8,339.8 1047.4,341.3 1053.0,342.9 1058.6,344.7 1064.2,346.3 1069.8,347.5 1075.4,348.5 1081.0,349.3 1086.6,350.1 1092.2,350.5 1097.8,350.4 1103.4,349.6 1109.0,347.8 1114.7,345.5 1120.3,343.0 1125.9,340.3 1131.5,337.2 1137.1,333.6 1142.7,329.3 1148.3,324.4 1153.9,319.3 1159.5,314.7 1165.1,311.2 1170.7,308.3" fill="none" stroke="#787884" stroke-width="1.4" stroke-opacity="0.42" stroke-linejoin="round" stroke-linecap="butt"/>
<polyline points="593.4,389.8 599.0,389.3 604.6,388.8 610.2,388.3 615.8,388.0 621.4,387.7 627.0,387.6 632.6,387.6 638.2,387.8 643.8,388.0 649.4,388.2 655.0,388.4 660.7,388.6 666.3,388.5 671.9,387.8 677.5,386.0 683.1,383.4 688.7,380.9 694.3,379.0 699.9,377.7 705.5,376.6 711.1,375.1 716.7,373.1 722.3,370.9 727.9,368.4 733.5,365.6 739.1,362.5 744.7,359.5 750.3,356.6 755.9,353.2 761.5,349.2 767.1,345.0 772.8,341.3 778.4,338.2 784.0,336.1 789.6,334.7 795.2,334.0 800.8,333.7 806.4,333.6 812.0,333.9 817.6,334.5 823.2,335.2 828.8,335.8 834.4,336.3 840.0,336.8 845.6,337.5 851.2,338.2 856.8,338.9 862.4,339.6 868.0,340.2 873.6,340.6 879.2,340.7 884.9,340.8 890.5,340.8 896.1,340.6 901.7,340.2 907.3,339.8 912.9,339.6 918.5,339.4 924.1,339.3 929.7,339.2 935.3,339.2 940.9,338.8 946.5,337.3 952.1,335.2 957.7,333.4 963.3,332.4 968.9,331.8 974.5,331.3 980.1,330.7 985.7,330.3 991.3,330.4 997.0,331.2 1002.6,332.4 1008.2,333.6 1013.8,334.9 1019.4,336.2 1025.0,337.3 1030.6,338.5 1036.2,339.8 1041.8,341.0 1047.4,342.3 1053.0,343.9 1058.6,345.7 1064.2,347.2 1069.8,348.4 1075.4,349.5 1081.0,350.4 1086.6,351.2 1092.2,351.7 1097.8,351.6 1103.4,350.9 1109.0,349.2 1114.7,347.0 1120.3,344.6 1125.9,341.9 1131.5,338.9 1137.1,335.3 1142.7,331.0 1148.3,326.1 1153.9,321.0 1159.5,316.4 1165.1,312.7 1170.7,309.8" fill="none" stroke="#787884" stroke-width="1.2" stroke-opacity="0.3" stroke-linejoin="round" stroke-linecap="butt"/>
<polyline points="593.4,386.9 599.0,386.4 604.6,385.8 610.2,385.2 615.8,384.8 621.4,384.5 627.0,384.2 632.6,384.2 638.2,384.3 643.8,384.5 649.4,384.7 655.0,384.9 660.7,385.2 666.3,385.2 671.9,384.6 677.5,382.9 683.1,380.3 688.7,377.8 694.3,376.0 699.9,374.8 705.5,373.9 711.1,372.5 716.7,370.7 722.3,368.5 727.9,366.1 733.5,363.3 739.1,360.2 744.7,357.1 750.3,354.2 755.9,350.7 761.5,346.6 767.1,342.2 772.8,338.2 778.4,335.0 784.0,332.6 789.6,331.1 795.2,330.3 800.8,330.0 806.4,329.9 812.0,330.1 817.6,330.7 823.2,331.5 828.8,332.3 834.4,332.9 840.0,333.6 845.6,334.4 851.2,335.3 856.8,336.1 862.4,336.9 868.0,337.6 873.6,338.2 879.2,338.4 884.9,338.6 890.5,338.7 896.1,338.5 901.7,338.1 907.3,337.7 912.9,337.3 918.5,337.1 924.1,336.8 929.7,336.6 935.3,336.5 940.9,335.9 946.5,334.2 952.1,331.8 957.7,329.9 963.3,328.8 968.9,328.3 974.5,327.9 980.1,327.5 985.7,327.1 991.3,327.1 997.0,328.0 1002.6,329.2 1008.2,330.6 1013.8,332.0 1019.4,333.4 1025.0,334.7 1030.6,336.1 1036.2,337.5 1041.8,338.8 1047.4,340.1 1053.0,341.7 1058.6,343.4 1064.2,344.9 1069.8,346.0 1075.4,347.0 1081.0,347.8 1086.6,348.5 1092.2,348.9 1097.8,348.8 1103.4,347.9 1109.0,346.2 1114.7,343.9 1120.3,341.4 1125.9,338.7 1131.5,335.7 1137.1,332.2 1142.7,328.0 1148.3,323.2 1153.9,318.1 1159.5,313.6 1165.1,310.1 1170.7,307.3" fill="none" stroke="#787884" stroke-width="1.2" stroke-opacity="0.3" stroke-linejoin="round" stroke-linecap="butt"/>
<polygon points="554.2,408.8 559.8,400.7 565.4,395.5 571.0,391.9 576.6,389.0 582.2,386.9 587.8,385.5 593.4,384.8 593.4,392.2 587.8,393.0 582.2,394.4 576.6,396.6 571.0,399.4 565.4,403.1 559.8,408.0 554.2,415.7" fill="#ff5c5c" fill-opacity="0.26" stroke="#ff5c5c" stroke-opacity="0.10" stroke-width="1.6" stroke-linejoin="round"/>
<polyline points="554.2,412.2 559.8,404.3 565.4,399.3 571.0,395.7 576.6,392.8 582.2,390.6 587.8,389.2 593.4,388.5" fill="none" stroke="#ff4d4d" stroke-width="1.3" stroke-opacity="0.22" stroke-linejoin="round" stroke-linecap="butt"/>
<polyline points="554.2,414.0 559.8,406.3 565.4,401.3 571.0,397.6 576.6,394.8 582.2,392.6 587.8,391.2 593.4,390.4" fill="none" stroke="#ff4d4d" stroke-width="1.3" stroke-opacity="0.16" stroke-linejoin="round" stroke-linecap="butt"/>
<polyline points="554.2,410.5 559.8,402.4 565.4,397.3 571.0,393.7 576.6,390.8 582.2,388.7 587.8,387.3 593.4,386.6" fill="none" stroke="#ff4d4d" stroke-width="1.3" stroke-opacity="0.16" stroke-linejoin="round" stroke-linecap="butt"/>
<polygon points="43.4,555.3 44.1,555.3 49.7,555.4 55.3,555.5 60.9,555.7 66.5,555.7 72.1,555.6 77.7,555.5 83.3,555.3 88.9,555.1 94.5,554.7 100.2,554.4 105.8,554.6 111.4,554.9 117.0,555.2 122.6,555.5 128.2,555.8 133.8,556.0 139.4,556.1 145.0,556.0 150.6,556.1 156.2,556.5 161.8,557.5 167.4,559.0 173.0,560.7 178.6,562.1 184.2,563.2 189.8,563.9 195.4,564.6 201.0,565.0 206.6,565.2 212.2,565.4 217.9,565.6 223.5,565.4 229.1,564.7 234.7,563.5 240.3,562.3 245.9,561.1 251.5,559.9 257.1,558.6 262.7,557.3 268.3,556.1 273.9,555.0 279.5,553.9 285.1,552.9 290.7,552.2 296.3,551.7 301.9,551.4 307.5,551.3 313.1,551.4 318.7,551.8 324.4,552.4 330.0,553.2 335.6,554.0 341.2,554.8 346.8,555.5 352.4,556.0 358.0,556.3 363.6,556.2 369.2,555.7 374.8,555.1 380.4,554.5 386.0,553.9 391.6,552.8 397.2,551.0 402.8,548.7 408.4,546.4 414.0,544.1 419.6,541.7 425.2,539.2 430.8,536.7 436.5,534.2 442.1,531.8 447.7,529.5 453.3,527.1 458.9,524.5 464.5,521.6 470.1,518.2 475.7,514.6 481.3,510.6 486.9,506.5 492.5,502.0 498.1,497.0 503.7,491.9 509.3,487.4 514.9,482.8 520.5,478.8 526.1,475.6 531.7,472.5 537.3,469.3 542.9,466.0 548.6,462.1 554.2,457.9 554.2,465.1 548.6,468.6 542.9,472.0 537.3,475.1 531.7,478.4 526.1,481.6 520.5,484.9 514.9,489.0 509.3,493.7 503.7,498.3 498.1,503.3 492.5,508.3 486.9,512.4 481.3,516.1 475.7,519.7 470.1,523.2 464.5,526.5 458.9,529.2 453.3,531.5 447.7,533.7 442.1,536.1 436.5,538.5 430.8,540.9 425.2,543.4 419.6,545.9 414.0,548.4 408.4,550.7 402.8,553.0 397.2,555.2 391.6,556.9 386.0,557.7 380.4,558.2 374.8,558.7 369.2,559.3 363.6,559.8 358.0,559.9 352.4,559.6 346.8,559.0 341.2,558.3 335.6,557.5 330.0,556.6 324.4,555.8 318.7,555.1 313.1,554.7 307.5,554.6 301.9,554.8 296.3,555.1 290.7,555.7 285.1,556.5 279.5,557.5 273.9,558.6 268.3,559.8 262.7,561.1 257.1,562.5 251.5,563.9 245.9,565.2 240.3,566.3 234.7,567.4 229.1,568.5 223.5,569.2 217.9,569.2 212.2,569.1 206.6,568.9 201.0,568.6 195.4,568.2 189.8,567.5 184.2,566.7 178.6,565.6 173.0,564.1 167.4,562.3 161.8,560.7 156.2,559.7 150.6,559.3 145.0,559.3 139.4,559.3 133.8,559.3 128.2,559.1 122.6,558.8 117.0,558.5 111.4,558.2 105.8,557.9 100.2,557.8 94.5,558.1 88.9,558.5 83.3,558.7 77.7,558.8 72.1,558.9 66.5,559.0 60.9,558.9 55.3,558.8 49.7,558.7 44.1,558.6 43.4,558.6" fill="#787884" fill-opacity="0.30" stroke="#787884" stroke-opacity="0.12" stroke-width="1.2" stroke-linejoin="round"/>
<polyline points="43.4,556.9 44.1,556.9 49.7,557.1 55.3,557.2 60.9,557.3 66.5,557.3 72.1,557.3 77.7,557.1 83.3,557.0 88.9,556.8 94.5,556.4 100.2,556.1 105.8,556.2 111.4,556.5 117.0,556.9 122.6,557.2 128.2,557.5 133.8,557.7 139.4,557.7 145.0,557.6 150.6,557.7 156.2,558.1 161.8,559.1 167.4,560.7 173.0,562.4 178.6,563.9 184.2,564.9 189.8,565.7 195.4,566.4 201.0,566.8 206.6,567.1 212.2,567.2 217.9,567.4 223.5,567.3 229.1,566.6 234.7,565.5 240.3,564.3 245.9,563.2 251.5,561.9 257.1,560.5 262.7,559.2 268.3,558.0 273.9,556.8 279.5,555.7 285.1,554.7 290.7,553.9 296.3,553.4 301.9,553.1 307.5,552.9 313.1,553.1 318.7,553.5 324.4,554.1 330.0,554.9 335.6,555.8 341.2,556.6 346.8,557.3 352.4,557.8 358.0,558.1 363.6,558.0 369.2,557.5 374.8,556.9 380.4,556.4 386.0,555.8 391.6,554.9 397.2,553.1 402.8,550.9 408.4,548.6 414.0,546.2 419.6,543.8 425.2,541.3 430.8,538.8 436.5,536.3 442.1,533.9 447.7,531.6 453.3,529.3 458.9,526.8 464.5,524.0 470.1,520.7 475.7,517.1 481.3,513.4 486.9,509.4 492.5,505.1 498.1,500.1 503.7,495.1 509.3,490.5 514.9,485.9 520.5,481.8 526.1,478.6 531.7,475.5 537.3,472.2 542.9,469.0 548.6,465.3 554.2,461.5" fill="none" stroke="#787884" stroke-width="1.4" stroke-opacity="0.42" stroke-linejoin="round" stroke-linecap="butt"/>
<polyline points="43.4,557.6 44.1,557.6 49.7,557.8 55.3,557.9 60.9,558.1 66.5,558.1 72.1,558.0 77.7,557.9 83.3,557.7 88.9,557.5 94.5,557.1 100.2,556.8 105.8,556.8 111.4,557.1 117.0,557.4 122.6,557.6 128.2,557.9 133.8,558.1 139.4,558.1 145.0,558.0 150.6,558.1 156.2,558.5 161.8,559.5 167.4,561.2 173.0,563.0 178.6,564.5 184.2,565.6 189.8,566.5 195.4,567.2 201.0,567.6 206.6,567.9 212.2,568.1 217.9,568.3 223.5,568.2 229.1,567.6 234.7,566.4 240.3,565.2 245.9,564.0 251.5,562.7 257.1,561.3 262.7,559.9 268.3,558.6 273.9,557.4 279.5,556.2 285.1,555.2 290.7,554.4 296.3,553.9 301.9,553.5 307.5,553.4 313.1,553.5 318.7,554.0 324.4,554.7 330.0,555.5 335.6,556.4 341.2,557.3 346.8,558.0 352.4,558.6 358.0,558.9 363.6,558.8 369.2,558.4 374.8,557.8 380.4,557.2 386.0,556.7 391.6,555.8 397.2,554.1 402.8,551.8 408.4,549.4 414.0,547.0 419.6,544.6 425.2,542.0 430.8,539.5 436.5,537.0 442.1,534.6 447.7,532.2 453.3,529.9 458.9,527.5 464.5,524.8 470.1,521.6 475.7,518.1 481.3,514.5 486.9,510.8 492.5,506.6 498.1,501.8 503.7,496.8 509.3,492.3 514.9,487.6 520.5,483.6 526.1,480.4 531.7,477.1 537.3,473.9 542.9,470.6 548.6,467.1 554.2,463.3" fill="none" stroke="#787884" stroke-width="1.2" stroke-opacity="0.3" stroke-linejoin="round" stroke-linecap="butt"/>
<polyline points="43.4,556.2 44.1,556.2 49.7,556.3 55.3,556.5 60.9,556.7 66.5,556.7 72.1,556.7 77.7,556.6 83.3,556.5 88.9,556.3 94.5,555.9 100.2,555.7 105.8,555.8 111.4,556.1 117.0,556.4 122.6,556.7 128.2,557.0 133.8,557.2 139.4,557.2 145.0,557.1 150.6,557.1 156.2,557.5 161.8,558.4 167.4,559.9 173.0,561.6 178.6,563.1 184.2,564.1 189.8,564.9 195.4,565.5 201.0,566.0 206.6,566.3 212.2,566.5 217.9,566.7 223.5,566.6 229.1,565.9 234.7,564.8 240.3,563.7 245.9,562.6 251.5,561.3 257.1,560.0 262.7,558.7 268.3,557.4 273.9,556.3 279.5,555.2 285.1,554.2 290.7,553.3 296.3,552.8 301.9,552.5 307.5,552.3 313.1,552.4 318.7,552.7 324.4,553.3 330.0,554.1 335.6,554.9 341.2,555.7 346.8,556.4 352.4,557.0 358.0,557.3 363.6,557.2 369.2,556.8 374.8,556.3 380.4,555.7 386.0,555.2 391.6,554.2 397.2,552.4 402.8,550.2 408.4,548.0 414.0,545.6 419.6,543.2 425.2,540.7 430.8,538.1 436.5,535.6 442.1,533.2 447.7,530.8 453.3,528.4 458.9,525.8 464.5,522.8 470.1,519.4 475.7,515.8 481.3,511.8 486.9,507.7 492.5,503.3 498.1,498.3 503.7,493.3 509.3,488.8 514.9,484.2 520.5,480.3 526.1,477.2 531.7,474.2 537.3,471.1 542.9,467.9 548.6,464.2 554.2,460.2" fill="none" stroke="#787884" stroke-width="1.2" stroke-opacity="0.3" stroke-linejoin="round" stroke-linecap="butt"/>
<polygon points="593.4,438.9 599.0,437.7 604.6,436.3 610.2,434.6 615.8,432.7 621.4,431.1 627.0,429.7 632.6,428.4 638.2,427.3 643.8,426.4 649.4,425.6 655.0,424.7 660.7,423.6 666.3,422.3 671.9,420.9 677.5,419.4 683.1,417.8 688.7,416.4 694.3,415.4 699.9,414.6 705.5,413.4 711.1,411.8 716.7,410.0 722.3,408.1 727.9,406.1 733.5,404.0 739.1,401.5 744.7,398.4 750.3,395.1 755.9,391.8 761.5,388.3 767.1,384.7 772.8,381.9 778.4,379.8 784.0,378.3 789.6,376.6 795.2,374.7 800.8,373.0 806.4,372.3 812.0,373.4 817.6,374.6 823.2,374.8 828.8,374.2 834.4,373.6 840.0,373.4 845.6,374.1 851.2,375.4 856.8,376.9 862.4,378.0 868.0,378.6 873.6,378.6 879.2,378.1 884.9,376.8 890.5,375.4 896.1,374.5 901.7,373.9 907.3,373.3 912.9,372.6 918.5,372.1 924.1,371.6 929.7,371.4 935.3,371.5 940.9,371.8 946.5,371.8 952.1,371.2 957.7,370.2 963.3,368.8 968.9,367.5 974.5,366.3 980.1,365.5 985.7,365.7 991.3,367.5 997.0,369.6 1002.6,371.5 1008.2,373.5 1013.8,375.5 1019.4,377.1 1025.0,378.0 1030.6,378.0 1036.2,377.5 1041.8,377.7 1047.4,378.5 1053.0,379.7 1058.6,381.2 1064.2,382.5 1069.8,383.2 1075.4,383.5 1081.0,383.6 1086.6,383.5 1092.2,383.2 1097.8,382.7 1103.4,381.9 1109.0,380.7 1114.7,379.1 1120.3,377.1 1125.9,374.5 1131.5,371.3 1137.1,367.7 1142.7,363.8 1148.3,359.9 1153.9,355.9 1159.5,352.0 1165.1,348.6 1170.7,345.8 1170.7,352.1 1165.1,354.9 1159.5,358.3 1153.9,362.0 1148.3,365.9 1142.7,369.8 1137.1,373.6 1131.5,377.2 1125.9,380.4 1120.3,383.0 1114.7,385.0 1109.0,386.5 1103.4,387.6 1097.8,388.4 1092.2,388.9 1086.6,389.3 1081.0,389.5 1075.4,389.5 1069.8,389.3 1064.2,388.7 1058.6,387.4 1053.0,385.9 1047.4,384.7 1041.8,384.0 1036.2,384.0 1030.6,384.6 1025.0,384.8 1019.4,384.0 1013.8,382.4 1008.2,380.3 1002.6,378.2 997.0,376.1 991.3,373.9 985.7,372.0 980.1,371.6 974.5,372.5 968.9,373.7 963.3,375.2 957.7,376.6 952.1,377.5 946.5,377.8 940.9,377.7 935.3,377.3 929.7,377.2 924.1,377.4 918.5,377.9 912.9,378.5 907.3,379.2 901.7,379.9 896.1,380.5 890.5,381.5 884.9,383.0 879.2,384.5 873.6,385.1 868.0,385.1 862.4,384.6 856.8,383.4 851.2,381.9 845.6,380.5 840.0,379.8 834.4,380.0 828.8,380.8 823.2,381.6 817.6,381.4 812.0,380.1 806.4,379.0 800.8,379.6 795.2,381.6 789.6,383.6 784.0,385.3 778.4,386.7 772.8,388.6 767.1,391.4 761.5,394.8 755.9,398.4 750.3,401.6 744.7,404.9 739.1,408.0 733.5,410.5 727.9,412.6 722.3,414.5 716.7,416.4 711.1,418.2 705.5,419.8 699.9,421.0 694.3,421.8 688.7,422.6 683.1,423.9 677.5,425.4 671.9,426.9 666.3,428.3 660.7,429.8 655.0,431.1 649.4,432.1 643.8,433.0 638.2,434.0 632.6,435.3 627.0,436.7 621.4,438.2 615.8,440.0 610.2,442.0 604.6,443.9 599.0,445.4 593.4,446.7" fill="#787884" fill-opacity="0.30" stroke="#787884" stroke-opacity="0.12" stroke-width="1.2" stroke-linejoin="round"/>
<polyline points="593.4,442.8 599.0,441.6 604.6,440.1 610.2,438.3 615.8,436.4 621.4,434.7 627.0,433.2 632.6,431.8 638.2,430.6 643.8,429.7 649.4,428.8 655.0,427.9 660.7,426.7 666.3,425.3 671.9,423.9 677.5,422.4 683.1,420.8 688.7,419.5 694.3,418.6 699.9,417.8 705.5,416.6 711.1,415.0 716.7,413.2 722.3,411.3 727.9,409.3 733.5,407.2 739.1,404.7 744.7,401.7 750.3,398.4 755.9,395.1 761.5,391.6 767.1,388.1 772.8,385.2 778.4,383.3 784.0,381.8 789.6,380.1 795.2,378.2 800.8,376.3 806.4,375.7 812.0,376.8 817.6,378.0 823.2,378.2 828.8,377.5 834.4,376.8 840.0,376.6 845.6,377.3 851.2,378.7 856.8,380.1 862.4,381.3 868.0,381.8 873.6,381.9 879.2,381.3 884.9,379.9 890.5,378.4 896.1,377.5 901.7,376.9 907.3,376.2 912.9,375.6 918.5,375.0 924.1,374.5 929.7,374.3 935.3,374.4 940.9,374.7 946.5,374.8 952.1,374.4 957.7,373.4 963.3,372.0 968.9,370.6 974.5,369.4 980.1,368.5 985.7,368.8 991.3,370.7 997.0,372.8 1002.6,374.8 1008.2,376.9 1013.8,379.0 1019.4,380.6 1025.0,381.4 1030.6,381.3 1036.2,380.7 1041.8,380.8 1047.4,381.6 1053.0,382.8 1058.6,384.3 1064.2,385.6 1069.8,386.2 1075.4,386.5 1081.0,386.5 1086.6,386.4 1092.2,386.1 1097.8,385.6 1103.4,384.8 1109.0,383.6 1114.7,382.1 1120.3,380.1 1125.9,377.5 1131.5,374.3 1137.1,370.7 1142.7,366.8 1148.3,362.9 1153.9,359.0 1159.5,355.1 1165.1,351.8 1170.7,348.9" fill="none" stroke="#787884" stroke-width="1.4" stroke-opacity="0.42" stroke-linejoin="round" stroke-linecap="butt"/>
<polyline points="593.4,444.1 599.0,442.8 604.6,441.4 610.2,439.5 615.8,437.7 621.4,436.0 627.0,434.6 632.6,433.3 638.2,432.1 643.8,431.3 649.4,430.5 655.0,429.6 660.7,428.4 666.3,427.0 671.9,425.6 677.5,424.1 683.1,422.6 688.7,421.3 694.3,420.3 699.9,419.5 705.5,418.2 711.1,416.6 716.7,414.7 722.3,412.7 727.9,410.6 733.5,408.4 739.1,405.9 744.7,402.8 750.3,399.4 755.9,396.1 761.5,392.6 767.1,389.2 772.8,386.5 778.4,384.6 784.0,383.2 789.6,381.7 795.2,379.8 800.8,378.0 806.4,377.4 812.0,378.6 817.6,380.0 823.2,380.2 828.8,379.5 834.4,378.7 840.0,378.5 845.6,379.1 851.2,380.4 856.8,381.8 862.4,382.9 868.0,383.4 873.6,383.3 879.2,382.5 884.9,381.1 890.5,379.5 896.1,378.5 901.7,377.8 907.3,377.1 912.9,376.5 918.5,375.9 924.1,375.5 929.7,375.3 935.3,375.6 940.9,375.9 946.5,376.2 952.1,375.9 957.7,375.0 963.3,373.7 968.9,372.4 974.5,371.2 980.1,370.3 985.7,370.7 991.3,372.6 997.0,374.7 1002.6,376.7 1008.2,378.7 1013.8,380.7 1019.4,382.2 1025.0,382.9 1030.6,382.7 1036.2,382.0 1041.8,382.0 1047.4,382.6 1053.0,383.8 1058.6,385.3 1064.2,386.6 1069.8,387.2 1075.4,387.5 1081.0,387.6 1086.6,387.5 1092.2,387.2 1097.8,386.8 1103.4,386.1 1109.0,385.0 1114.7,383.6 1120.3,381.6 1125.9,379.1 1131.5,376.0 1137.1,372.3 1142.7,368.5 1148.3,364.6 1153.9,360.7 1159.5,356.8 1165.1,353.4 1170.7,350.4" fill="none" stroke="#787884" stroke-width="1.2" stroke-opacity="0.3" stroke-linejoin="round" stroke-linecap="butt"/>
<polyline points="593.4,441.2 599.0,439.9 604.6,438.3 610.2,436.4 615.8,434.5 621.4,432.7 627.0,431.2 632.6,429.9 638.2,428.7 643.8,427.7 649.4,427.0 655.0,426.1 660.7,425.0 666.3,423.7 671.9,422.4 677.5,421.0 683.1,419.5 688.7,418.2 694.3,417.4 699.9,416.6 705.5,415.5 711.1,414.0 716.7,412.2 722.3,410.3 727.9,408.3 733.5,406.1 739.1,403.6 744.7,400.4 750.3,397.1 755.9,393.7 761.5,390.0 767.1,386.4 772.8,383.4 778.4,381.3 784.0,379.7 789.6,378.1 795.2,376.1 800.8,374.3 806.4,373.7 812.0,374.9 817.6,376.2 823.2,376.4 828.8,375.9 834.4,375.3 840.0,375.3 845.6,376.0 851.2,377.5 856.8,379.0 862.4,380.2 868.0,380.8 873.6,380.8 879.2,380.2 884.9,378.9 890.5,377.4 896.1,376.4 901.7,375.7 907.3,375.0 912.9,374.2 918.5,373.6 924.1,373.0 929.7,372.8 935.3,372.8 940.9,373.1 946.5,373.0 952.1,372.5 957.7,371.5 963.3,370.2 968.9,368.9 974.5,367.8 980.1,367.0 985.7,367.4 991.3,369.3 997.0,371.5 1002.6,373.5 1008.2,375.7 1013.8,377.8 1019.4,379.4 1025.0,380.3 1030.6,380.2 1036.2,379.7 1041.8,379.7 1047.4,380.4 1053.0,381.6 1058.6,383.0 1064.2,384.2 1069.8,384.8 1075.4,385.0 1081.0,385.0 1086.6,384.8 1092.2,384.5 1097.8,384.0 1103.4,383.2 1109.0,382.0 1114.7,380.4 1120.3,378.5 1125.9,375.9 1131.5,372.8 1137.1,369.3 1142.7,365.5 1148.3,361.6 1153.9,357.8 1159.5,354.0 1165.1,350.7 1170.7,347.9" fill="none" stroke="#787884" stroke-width="1.2" stroke-opacity="0.3" stroke-linejoin="round" stroke-linecap="butt"/>
<polygon points="554.2,458.0 559.8,454.3 565.4,450.9 571.0,447.6 576.6,444.8 582.2,442.4 587.8,440.5 593.4,439.1 593.4,446.5 587.8,448.0 582.2,449.9 576.6,452.3 571.0,455.2 565.4,458.4 559.8,461.7 554.2,464.9" fill="#ff5c5c" fill-opacity="0.26" stroke="#ff5c5c" stroke-opacity="0.10" stroke-width="1.6" stroke-linejoin="round"/>
<polyline points="554.2,461.5 559.8,458.0 565.4,454.7 571.0,451.4 576.6,448.6 582.2,446.1 587.8,444.2 593.4,442.8" fill="none" stroke="#ff4d4d" stroke-width="1.3" stroke-opacity="0.22" stroke-linejoin="round" stroke-linecap="butt"/>
<polyline points="554.2,463.3 559.8,459.9 565.4,456.6 571.0,453.4 576.6,450.5 582.2,448.1 587.8,446.2 593.4,444.7" fill="none" stroke="#ff4d4d" stroke-width="1.3" stroke-opacity="0.16" stroke-linejoin="round" stroke-linecap="butt"/>
<polyline points="554.2,459.7 559.8,456.1 565.4,452.7 571.0,449.5 576.6,446.6 582.2,444.2 587.8,442.3 593.4,440.9" fill="none" stroke="#ff4d4d" stroke-width="1.3" stroke-opacity="0.16" stroke-linejoin="round" stroke-linecap="butt"/>
<polygon points="548.4,380 552.6,383.5 548.4,387" fill="#2f54eb"/>
<g stroke="#3d5afe" fill="#3d5afe"><line x1="550.9" x2="557.5" y1="407" y2="407" stroke-width="1.2"/><line x1="554.2" x2="554.2" y1="410" y2="415.4" stroke-width="1.5"/><polygon points="551.2,411.2 554.2,407.9 557.2,411.2" stroke="none"/></g>
<text x="554.2" y="424.8" font-size="7" fill="#4d6cfa" text-anchor="middle" font-family="Liberation Sans, sans-serif">VoVixLong</text>
<text x="554.2" y="433" font-size="7" fill="#4d6cfa" text-anchor="middle" font-family="Liberation Sans, sans-serif">2</text>
<text x="559.8" y="349.8" font-size="7" fill="#ef4b55" text-anchor="middle" font-family="Liberation Sans, sans-serif">2</text>
<text x="559.8" y="357.9" font-size="7" fill="#ef4b55" text-anchor="middle" font-family="Liberation Sans, sans-serif">VoVixShort</text>
<g stroke="#f23645" fill="#f23645"><line x1="559.8" x2="559.8" y1="363.2" y2="370" stroke-width="1.5"/><polygon points="556.8,369.2 559.8,372.8 562.8,369.2" stroke="none"/></g>
<polygon points="565,400.2 561.1,403.4 565,406.6" fill="#f23645"/>
<polygon points="588,411.6 592,414.9 588,418.2" fill="#c430e0"/>
<g stroke="#c430e0" fill="#c430e0"><line x1="589.4" x2="597.4" y1="427.6" y2="427.6" stroke-width="1.3"/><line x1="593.4" x2="593.4" y1="431" y2="439" stroke-width="1.6"/><polygon points="590.2,432.6 593.4,428.8 596.6,432.6" stroke="none"/></g>
<text x="593.4" y="448.7" font-size="7" fill="#c73ee0" text-anchor="middle" font-family="Liberation Sans, sans-serif">VoVixShort</text>
</svg>

<svg class="abs" style="left:23.5px;top:242.5px" width="14" height="14" viewBox="-7 -7 14 14" fill="none" stroke="#4a4a4a" stroke-width="0.8"><line x1="-5.5" x2="5.5" y1="0" y2="0"/><circle cx="0" cy="0" r="1.2" fill="#4a4a4a" stroke="none"/></svg>
<svg class="abs" style="left:23.5px;top:264.2px" width="14" height="14" viewBox="-7 -7 14 14" fill="none" stroke="#4a4a4a" stroke-width="0.8"><line x1="-6" x2="5.5" y1="0" y2="0"/><circle cx="-4.2" cy="0" r="1.2" fill="#4a4a4a" stroke="none"/><circle cx="0.4" cy="0" r="1.2" fill="#4a4a4a" stroke="none"/></svg>
<svg class="abs" style="left:23.5px;top:286.0px" width="14" height="14" viewBox="-7 -7 14 14" fill="none" stroke="#4a4a4a" stroke-width="0.8"><line x1="-5" x2="5" y1="0" y2="0"/><circle cx="-5" cy="0" r="1.2" fill="#4a4a4a" stroke="none"/><circle cx="5" cy="0" r="1.2" fill="#4a4a4a" stroke="none"/></svg>
<svg class="abs" style="left:23.5px;top:307.7px" width="14" height="14" viewBox="-7 -7 14 14" fill="none" stroke="#4a4a4a" stroke-width="0.8"><line y1="-5.8" y2="5.8" x1="0" x2="0"/><circle cx="0" cy="0" r="1.2" fill="#4a4a4a" stroke="none"/></svg>
<svg class="abs" style="left:23.5px;top:329.4px" width="14" height="14" viewBox="-7 -7 14 14" fill="none" stroke="#4a4a4a" stroke-width="0.8"><line y1="-5.5" y2="5.8" x1="0" x2="0"/><circle cx="0" cy="-0.6" r="1.2" fill="#4a4a4a" stroke="none"/><circle cx="0" cy="4.2" r="1.2" fill="#4a4a4a" stroke="none"/></svg>
<svg class="abs" style="left:23.5px;top:351.1px" width="14" height="14" viewBox="-7 -7 14 14" fill="none" stroke="#4a4a4a" stroke-width="0.8"><line y1="-5" y2="5" x1="0" x2="0"/><circle cx="0" cy="-5" r="1.2" fill="#4a4a4a" stroke="none"/><circle cx="0" cy="5" r="1.2" fill="#4a4a4a" stroke="none"/></svg>
<svg class="abs" style="left:23.5px;top:372.9px" width="14" height="14" viewBox="-7 -7 14 14" fill="none" stroke="#4a4a4a" stroke-width="0.8"><line x1="-5" y1="5" x2="5" y2="-5"/><circle cx="0" cy="0" r="1.2" fill="#4a4a4a" stroke="none"/></svg>
<svg class="abs" style="left:23.5px;top:394.6px" width="14" height="14" viewBox="-7 -7 14 14" fill="none" stroke="#4a4a4a" stroke-width="0.8"><line x1="-4.6" y1="4.6" x2="5" y2="-5"/><circle cx="-3.6" cy="3.6" r="1.2" fill="#4a4a4a" stroke="none"/><circle cx="0.6" cy="-0.6" r="1.2" fill="#4a4a4a" stroke="none"/></svg>
<svg class="abs" style="left:23.5px;top:416.3px" width="14" height="14" viewBox="-7 -7 14 14" fill="none" stroke="#4a4a4a" stroke-width="0.8"><line x1="-4" y1="4" x2="4" y2="-4"/><circle cx="-4" cy="4" r="1.2" fill="#4a4a4a" stroke="none"/><circle cx="4" cy="-4" r="1.2" fill="#4a4a4a" stroke="none"/></svg>
<svg class="abs" style="left:23.5px;top:438.1px" width="14" height="14" viewBox="-7 -7 14 14" fill="none" stroke="#4a4a4a" stroke-width="0.8"><line x1="-5" x2="5.5" y1="2" y2="2"/><circle cx="-4.6" cy="2" r="1.1" fill="#4a4a4a" stroke="none"/><text x="1" y="0.3" font-size="4.6" fill="#444" stroke="none" text-anchor="middle" font-family="Liberation Sans, sans-serif">123</text></svg>
<svg class="abs" style="left:23.5px;top:459.8px" width="14" height="14" viewBox="-7 -7 14 14" fill="none" stroke="#4a4a4a" stroke-width="0.8"><line x1="-5.5" y1="2.2" x2="3" y2="-6"/><line x1="-2.5" y1="6" x2="5.8" y2="-2.2"/><circle cx="-1.2" cy="-2" r="1.2" fill="#4a4a4a" stroke="none"/><circle cx="1.6" cy="1.8" r="1.2" fill="#4a4a4a" stroke="none"/><circle cx="3.8" cy="-0.2" r="1.2" fill="#4a4a4a" stroke="none"/></svg>
<svg class="abs" style="left:23.5px;top:481.5px" width="14" height="14" viewBox="-7 -7 14 14" fill="none" stroke="#4a4a4a" stroke-width="0.8"><line x1="-5.8" y1="0.5" x2="1.5" y2="-6"/><line x1="-4.2" y1="3.6" x2="4.6" y2="-4.4"/><line x1="-2.2" y1="6" x2="5.8" y2="-1.2"/><circle cx="-1.6" cy="-3" r="1.2" fill="#4a4a4a" stroke="none"/><circle cx="0.4" cy="-0.6" r="1.2" fill="#4a4a4a" stroke="none"/><circle cx="2.2" cy="1.8" r="1.2" fill="#4a4a4a" stroke="none"/></svg>
<svg class="abs" style="left:23.5px;top:503.3px" width="14" height="14" viewBox="-7 -7 14 14" fill="none" stroke="#4a4a4a" stroke-width="0.8"><path d="M-5.5,-4.6H5.5M-5.5,-2.2H5.5M-5.5,0.2H5.5M-5.5,2.6H5.5M-5.5,5H5.5"/><circle cx="-2.2" cy="-4.6" r="1.1" fill="#4a4a4a" stroke="none"/><circle cx="2.4" cy="-4.6" r="1.1" fill="#4a4a4a" stroke="none"/><circle cx="0" cy="5" r="1.1" fill="#4a4a4a" stroke="none"/></svg>
<svg class="abs" style="left:23.5px;top:525.0px" width="14" height="14" viewBox="-7 -7 14 14" fill="none" stroke="#4a4a4a" stroke-width="0.8"><path d="M-5.6,-3.4H5.6M-2,-3.6V-5.4H2V-3.6M-4.2,-3.2L-3.6,5.8H3.6L4.2,-3.2M-1.6,-1V3.6M1.6,-1V3.6" stroke-width="0.95"/></svg>

<div class="leg" style="top:243.5px" id="ohlc">O=<b class="r">2678.9</b> H=<b class="r">2685.9</b> L=<b class="r">2656</b> C=<b class="r">2678.59</b> V=<b class="r">230713.28</b> CHANGE=<b class="r">-0.01%</b> AMPLITUDE=<b class="r">1.12%</b></div>
<div class="leg" style="top:257.6px;left:49px" id="lg0"><svg class="eye" width="10" height="7" viewBox="0 0 10 7" fill="none" stroke="#9a9da3" stroke-width="0.7"><path d="M0.5,3.5C2,1 3.6,0.6 5,0.6S8,1 9.5,3.5C8,6 6.4,6.4 5,6.4S2,6 0.5,3.5Z"/><circle cx="5" cy="3.5" r="1.4"/></svg><span>bar</span></div>
<div class="leg" style="top:271.7px;left:49px" id="lg1"><svg class="eye" width="10" height="7" viewBox="0 0 10 7" fill="none" stroke="#9a9da3" stroke-width="0.7"><path d="M0.5,3.5C2,1 3.6,0.6 5,0.6S8,1 9.5,3.5C8,6 6.4,6.4 5,6.4S2,6 0.5,3.5Z"/><circle cx="5" cy="3.5" r="1.4"/></svg><span>Upper Flux</span> <span style="color:#a66fd6;margin-left:2.6px;letter-spacing:0.65px">n/a</span></div>
<div class="leg" style="top:285.7px;left:49px" id="lg2"><svg class="eye" width="10" height="7" viewBox="0 0 10 7" fill="none" stroke="#9a9da3" stroke-width="0.7"><path d="M0.5,3.5C2,1 3.6,0.6 5,0.6S8,1 9.5,3.5C8,6 6.4,6.4 5,6.4S2,6 0.5,3.5Z"/><circle cx="5" cy="3.5" r="1.4"/></svg><span>Lower Flux</span> <span style="color:#3f8cf5;margin-left:2.6px;letter-spacing:0.65px">n/a</span></div>
<div class="leg" style="top:299.8px;left:49px" id="lg3"><svg class="eye" width="10" height="7" viewBox="0 0 10 7" fill="none" stroke="#9a9da3" stroke-width="0.7"><path d="M0.5,3.5C2,1 3.6,0.6 5,0.6S8,1 9.5,3.5C8,6 6.4,6.4 5,6.4S2,6 0.5,3.5Z"/><circle cx="5" cy="3.5" r="1.4"/></svg><span>Upper Flux Glow 1</span> <span style="color:#ec3f7a;margin-left:2.6px;letter-spacing:0.65px">n/a</span></div>
<div class="leg" style="top:313.8px;left:49px" id="lg4"><svg class="eye" width="10" height="7" viewBox="0 0 10 7" fill="none" stroke="#9a9da3" stroke-width="0.7"><path d="M0.5,3.5C2,1 3.6,0.6 5,0.6S8,1 9.5,3.5C8,6 6.4,6.4 5,6.4S2,6 0.5,3.5Z"/><circle cx="5" cy="3.5" r="1.4"/></svg><span>Upper Flux Glow 2</span> <span style="color:#2cc3d8;margin-left:2.6px;letter-spacing:0.65px">n/a</span></div>
<div class="leg" style="top:327.9px;left:49px" id="lg5"><svg class="eye" width="10" height="7" viewBox="0 0 10 7" fill="none" stroke="#9a9da3" stroke-width="0.7"><path d="M0.5,3.5C2,1 3.6,0.6 5,0.6S8,1 9.5,3.5C8,6 6.4,6.4 5,6.4S2,6 0.5,3.5Z"/><circle cx="5" cy="3.5" r="1.4"/></svg><span>Lower Flux Glow 1</span> <span style="color:#ff9f1c;margin-left:2.6px;letter-spacing:0.65px">n/a</span></div>
<div class="leg" style="top:341.9px;left:49px" id="lg6"><svg class="eye" width="10" height="7" viewBox="0 0 10 7" fill="none" stroke="#9a9da3" stroke-width="0.7"><path d="M0.5,3.5C2,1 3.6,0.6 5,0.6S8,1 9.5,3.5C8,6 6.4,6.4 5,6.4S2,6 0.5,3.5Z"/><circle cx="5" cy="3.5" r="1.4"/></svg><span>Lower Flux Glow 2</span> <span style="color:#b362d1;margin-left:2.6px;letter-spacing:0.65px">n/a</span></div>
<div class="leg" style="top:356.0px;left:49px" id="lg7"><svg class="eye" width="10" height="7" viewBox="0 0 10 7" fill="none" stroke="#9a9da3" stroke-width="0.7"><path d="M0.5,3.5C2,1 3.6,0.6 5,0.6S8,1 9.5,3.5C8,6 6.4,6.4 5,6.4S2,6 0.5,3.5Z"/><circle cx="5" cy="3.5" r="1.4"/></svg><span>signal</span></div>

<div class="yl" style="top:270px">2,800.00</div>
<div class="yl" style="top:325.8px">2,600.00</div>
<div class="yl" style="top:381.2px">2,400.00</div>
<div class="yl" style="top:436.8px">2,200.00</div>
<div class="yl" style="top:492.4px">2,000.00</div>
<div class="yl" style="top:548px">1,800.00</div>

<div class="xl" style="left:66.5px">05–06</div>
<div class="xl" style="left:234.7px">05–07</div>
<div class="xl" style="left:402.8px">05–08</div>
<div class="xl" style="left:571px">05–09</div>
<div class="xl" style="left:739.1px">05–11</div>
<div class="xl" style="left:907.3px">05–12</div>
<div class="xl" style="left:1075.4px">05–13</div>

<div class="btns"><span style="left:4.5px">Order</span><span style="left:32px;top:0;width:1px;height:13px;background:#f1f1f3"></span><span style="left:37.3px">Indicator</span><span style="left:77px;top:0;width:1px;height:13px;background:#f1f1f3"></span>
<svg style="position:absolute;left:81.5px;top:2.6px" width="8" height="8" viewBox="0 0 8 8" fill="none" stroke="#777" stroke-width="0.8"><path d="M0.4,2.3V0.4H2.3M5.7,0.4H7.6V2.3M7.6,5.7V7.6H5.7M2.3,7.6H0.4V5.7M0.5,0.5L3,3M7.5,0.5L5,3M7.5,7.5L5,5M0.5,7.5L3,5"/></svg></div>

<div class="totop"><svg style="position:absolute;left:8px;top:8px" width="12" height="12" viewBox="0 0 12 12" fill="none" stroke="#444" stroke-width="1.1"><path d="M1.2,1.6H10.8"/><path d="M6,11V4.6M3.6,6.8L6,4.3L8.4,6.8" /></svg></div>
</body></html>
